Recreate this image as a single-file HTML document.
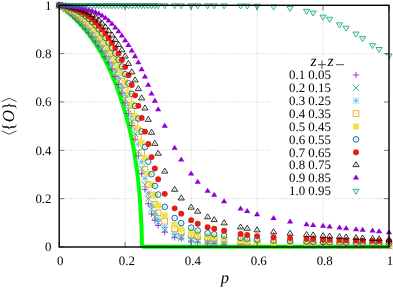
<!DOCTYPE html><html><head><meta charset="utf-8"><style>html,body{margin:0;padding:0;background:#fff}svg{display:block;will-change:transform}text{text-rendering:geometricPrecision;font-family:"Liberation Serif",serif;fill:#000}</style></head><body>
<svg width="393" height="288" viewBox="0 0 393 288">
<rect width="393" height="288" fill="#fff"/>
<path d="M125.16 5.3V247.0M59.2 198.66H389.0M191.12 5.3V247.0M59.2 150.32H389.0M257.08 5.3V247.0M59.2 101.98H389.0M323.04 5.3V247.0M59.2 53.64H389.0" stroke="#a8a8a8" stroke-width="0.55" stroke-dasharray="0.9 1.5" fill="none"/>
<polyline points="59.20,5.30 60.00,5.89 60.80,6.49 61.60,7.10 62.40,7.71 63.20,8.34 64.00,8.97 64.80,9.62 65.60,10.27 66.40,10.94 67.20,11.61 67.99,12.30 68.79,12.99 69.59,13.69 70.39,14.41 71.19,15.14 71.99,15.88 72.79,16.62 73.59,17.39 74.39,18.16 75.19,18.94 75.99,19.74 76.79,20.55 77.59,21.37 78.39,22.21 79.19,23.05 79.99,23.92 80.79,24.79 81.59,25.68 82.39,26.59 83.19,27.51 83.98,28.44 84.78,29.39 85.58,30.36 86.38,31.34 87.18,32.34 87.98,33.35 88.78,34.39 89.58,35.44 90.38,36.51 91.18,37.59 91.98,38.70 92.78,39.82 93.58,40.97 94.38,42.14 95.18,43.32 95.98,44.53 96.78,45.76 97.58,47.02 98.38,48.29 99.18,49.59 99.98,50.92 100.77,52.27 101.57,53.65 102.35,55.05 103.13,56.49 103.91,57.95 104.69,59.44 105.47,60.96 106.25,62.51 107.03,64.10 107.81,65.71 108.58,67.37 109.36,69.06 110.14,70.78 110.91,72.55 111.69,74.36 112.46,76.21 113.24,78.10 114.04,80.03 114.84,82.02 115.64,84.05 116.44,86.14 117.23,88.28 118.03,90.47 118.83,92.73 119.63,95.04 120.43,97.43 121.23,99.88 122.04,102.40 122.87,105.01 123.71,107.69 124.55,110.46 125.38,113.33 126.22,116.30 127.07,119.37 127.91,122.56 128.75,125.88 129.60,129.33 130.45,132.94 131.30,136.71 132.12,140.66 132.92,144.83 133.72,149.22 134.52,153.88 135.32,158.86 136.12,164.20 136.92,169.99 137.71,176.33 138.48,183.39 138.58,184.45 138.69,185.50 138.79,186.55 138.89,187.60 138.99,188.66 139.08,189.72 139.18,190.78 139.27,191.84 139.36,192.90 139.45,193.96 139.54,195.02 139.62,196.09 139.71,197.15 139.79,198.22 139.87,199.29 139.95,200.36 140.02,201.43 140.09,202.50 140.17,203.57 140.24,204.64 140.30,205.72 140.37,206.79 140.44,207.87 140.50,208.94 140.56,210.02 140.62,211.10 140.69,212.18 140.76,213.26 140.83,214.34 140.90,215.42 140.96,216.50 141.02,217.59 141.08,218.67 141.14,219.75 141.20,220.84 141.25,221.92 141.30,223.01 141.35,224.10 141.40,225.18 141.45,226.27 141.49,227.36 141.54,228.45 141.58,229.54 141.62,230.63 141.66,231.72 141.69,232.81 141.72,233.90 141.76,234.99 141.79,236.08 141.81,237.17 141.84,238.26 141.86,239.35 141.89,240.45 141.91,241.54 141.92,242.63 141.94,243.72 141.96,244.82 141.97,245.91 141.98,247.00 141.95,246.70 388.60,246.70" fill="none" stroke="#00FF00" stroke-width="4.0" stroke-linejoin="miter"/>
<g>
<path d="M56.10 5.30H62.30M59.20 2.20V8.40" stroke="#9400D3" stroke-width="0.8" fill="none"/>
<path d="M59.40 7.43H65.60M62.50 4.33V10.53" stroke="#9400D3" stroke-width="0.8" fill="none"/>
<path d="M62.70 9.80H68.90M65.80 6.70V12.90" stroke="#9400D3" stroke-width="0.8" fill="none"/>
<path d="M65.99 12.39H72.19M69.09 9.29V15.49" stroke="#9400D3" stroke-width="0.8" fill="none"/>
<path d="M69.29 15.20H75.49M72.39 12.10V18.30" stroke="#9400D3" stroke-width="0.8" fill="none"/>
<path d="M72.59 18.22H78.79M75.69 15.12V21.32" stroke="#9400D3" stroke-width="0.8" fill="none"/>
<path d="M75.89 21.44H82.09M78.99 18.34V24.54" stroke="#9400D3" stroke-width="0.8" fill="none"/>
<path d="M79.19 24.89H85.39M82.29 21.79V27.99" stroke="#9400D3" stroke-width="0.8" fill="none"/>
<path d="M82.48 28.56H88.68M85.58 25.46V31.66" stroke="#9400D3" stroke-width="0.8" fill="none"/>
<path d="M85.78 32.50H91.98M88.88 29.40V35.60" stroke="#9400D3" stroke-width="0.8" fill="none"/>
<path d="M89.08 36.69H95.28M92.18 33.59V39.79" stroke="#9400D3" stroke-width="0.8" fill="none"/>
<path d="M92.38 41.17H98.58M95.48 38.07V44.27" stroke="#9400D3" stroke-width="0.8" fill="none"/>
<path d="M95.68 45.98H101.88M98.78 42.88V49.08" stroke="#9400D3" stroke-width="0.8" fill="none"/>
<path d="M98.97 51.14H105.17M102.07 48.04V54.24" stroke="#9400D3" stroke-width="0.8" fill="none"/>
<path d="M102.27 56.71H108.47M105.37 53.61V59.81" stroke="#9400D3" stroke-width="0.8" fill="none"/>
<path d="M105.57 62.75H111.77M108.67 59.65V65.85" stroke="#9400D3" stroke-width="0.8" fill="none"/>
<path d="M108.87 69.27H115.07M111.97 66.17V72.37" stroke="#9400D3" stroke-width="0.8" fill="none"/>
<path d="M112.17 76.48H118.37M115.27 73.38V79.58" stroke="#9400D3" stroke-width="0.8" fill="none"/>
<path d="M115.46 84.50H121.66M118.56 81.40V87.60" stroke="#9400D3" stroke-width="0.8" fill="none"/>
<path d="M118.76 93.27H124.96M121.86 90.17V96.37" stroke="#9400D3" stroke-width="0.8" fill="none"/>
<path d="M122.06 102.81H128.26M125.16 99.71V105.91" stroke="#9400D3" stroke-width="0.8" fill="none"/>
<path d="M125.36 113.49H131.56M128.46 110.39V116.59" stroke="#9400D3" stroke-width="0.8" fill="none"/>
<path d="M128.66 125.47H134.86M131.76 122.37V128.57" stroke="#9400D3" stroke-width="0.8" fill="none"/>
<path d="M131.95 139.25H138.15M135.05 136.15V142.35" stroke="#9400D3" stroke-width="0.8" fill="none"/>
<path d="M135.25 155.88H141.45M138.35 152.78V158.98" stroke="#9400D3" stroke-width="0.8" fill="none"/>
<path d="M138.55 173.76H144.75M141.65 170.66V176.86" stroke="#9400D3" stroke-width="0.8" fill="none"/>
<path d="M141.85 189.35H148.05M144.95 186.25V192.45" stroke="#9400D3" stroke-width="0.8" fill="none"/>
<path d="M145.15 203.74H151.35M148.25 200.64V206.84" stroke="#9400D3" stroke-width="0.8" fill="none"/>
<path d="M148.44 213.89H154.64M151.54 210.79V216.99" stroke="#9400D3" stroke-width="0.8" fill="none"/>
<path d="M151.74 220.29H157.94M154.84 217.19V223.39" stroke="#9400D3" stroke-width="0.8" fill="none"/>
<path d="M155.04 225.49H161.24M158.14 222.39V228.59" stroke="#9400D3" stroke-width="0.8" fill="none"/>
<path d="M161.64 232.09H167.84M164.74 228.99V235.19" stroke="#9400D3" stroke-width="0.8" fill="none"/>
<path d="M171.53 237.33H177.73M174.63 234.23V240.43" stroke="#9400D3" stroke-width="0.8" fill="none"/>
<path d="M178.13 238.78H184.33M181.23 235.68V241.88" stroke="#9400D3" stroke-width="0.8" fill="none"/>
<path d="M188.02 241.20H194.22M191.12 238.10V244.30" stroke="#9400D3" stroke-width="0.8" fill="none"/>
<path d="M194.62 242.17H200.82M197.72 239.07V245.27" stroke="#9400D3" stroke-width="0.8" fill="none"/>
<path d="M204.51 243.13H210.71M207.61 240.03V246.23" stroke="#9400D3" stroke-width="0.8" fill="none"/>
<path d="M211.11 243.59H217.31M214.21 240.49V246.69" stroke="#9400D3" stroke-width="0.8" fill="none"/>
<path d="M221.00 244.10H227.20M224.10 241.00V247.20" stroke="#9400D3" stroke-width="0.8" fill="none"/>
<path d="M237.49 244.67H243.69M240.59 241.57V247.77" stroke="#9400D3" stroke-width="0.8" fill="none"/>
<path d="M244.09 244.85H250.29M247.19 241.75V247.95" stroke="#9400D3" stroke-width="0.8" fill="none"/>
<path d="M253.98 245.07H260.18M257.08 241.97V248.17" stroke="#9400D3" stroke-width="0.8" fill="none"/>
<path d="M270.47 245.37H276.67M273.57 242.27V248.47" stroke="#9400D3" stroke-width="0.8" fill="none"/>
<path d="M286.96 245.62H293.16M290.06 242.52V248.72" stroke="#9400D3" stroke-width="0.8" fill="none"/>
<path d="M303.45 245.79H309.65M306.55 242.69V248.89" stroke="#9400D3" stroke-width="0.8" fill="none"/>
<path d="M310.05 245.84H316.25M313.15 242.74V248.94" stroke="#9400D3" stroke-width="0.8" fill="none"/>
<path d="M319.94 245.89H326.14M323.04 242.79V248.99" stroke="#9400D3" stroke-width="0.8" fill="none"/>
<path d="M326.54 245.91H332.74M329.64 242.81V249.01" stroke="#9400D3" stroke-width="0.8" fill="none"/>
<path d="M336.43 245.95H342.63M339.53 242.85V249.05" stroke="#9400D3" stroke-width="0.8" fill="none"/>
<path d="M343.03 245.98H349.23M346.13 242.88V249.08" stroke="#9400D3" stroke-width="0.8" fill="none"/>
<path d="M352.92 246.03H359.12M356.02 242.93V249.13" stroke="#9400D3" stroke-width="0.8" fill="none"/>
<path d="M359.52 246.07H365.72M362.62 242.97V249.17" stroke="#9400D3" stroke-width="0.8" fill="none"/>
<path d="M369.41 246.14H375.61M372.51 243.04V249.24" stroke="#9400D3" stroke-width="0.8" fill="none"/>
<path d="M376.01 246.19H382.21M379.11 243.09V249.29" stroke="#9400D3" stroke-width="0.8" fill="none"/>
<path d="M385.90 246.27H392.10M389.00 243.17V249.37" stroke="#9400D3" stroke-width="0.8" fill="none"/>
</g>
<g>
<path d="M56.10 2.20L62.30 8.40M56.10 8.40L62.30 2.20" stroke="#009E73" stroke-width="0.8" fill="none"/>
<path d="M59.40 3.97L65.60 10.17M59.40 10.17L65.60 3.97" stroke="#009E73" stroke-width="0.8" fill="none"/>
<path d="M62.70 6.04L68.90 12.24M62.70 12.24L68.90 6.04" stroke="#009E73" stroke-width="0.8" fill="none"/>
<path d="M65.99 8.38L72.19 14.58M65.99 14.58L72.19 8.38" stroke="#009E73" stroke-width="0.8" fill="none"/>
<path d="M69.29 11.01L75.49 17.21M69.29 17.21L75.49 11.01" stroke="#009E73" stroke-width="0.8" fill="none"/>
<path d="M72.59 13.90L78.79 20.10M72.59 20.10L78.79 13.90" stroke="#009E73" stroke-width="0.8" fill="none"/>
<path d="M75.89 17.00L82.09 23.20M75.89 23.20L82.09 17.00" stroke="#009E73" stroke-width="0.8" fill="none"/>
<path d="M79.19 20.35L85.39 26.55M79.19 26.55L85.39 20.35" stroke="#009E73" stroke-width="0.8" fill="none"/>
<path d="M82.48 23.91L88.68 30.11M82.48 30.11L88.68 23.91" stroke="#009E73" stroke-width="0.8" fill="none"/>
<path d="M85.78 27.74L91.98 33.94M85.78 33.94L91.98 27.74" stroke="#009E73" stroke-width="0.8" fill="none"/>
<path d="M89.08 31.82L95.28 38.02M89.08 38.02L95.28 31.82" stroke="#009E73" stroke-width="0.8" fill="none"/>
<path d="M92.38 36.18L98.58 42.38M92.38 42.38L98.58 36.18" stroke="#009E73" stroke-width="0.8" fill="none"/>
<path d="M95.68 40.86L101.88 47.06M95.68 47.06L101.88 40.86" stroke="#009E73" stroke-width="0.8" fill="none"/>
<path d="M98.97 45.88L105.17 52.08M98.97 52.08L105.17 45.88" stroke="#009E73" stroke-width="0.8" fill="none"/>
<path d="M102.27 51.28L108.47 57.48M102.27 57.48L108.47 51.28" stroke="#009E73" stroke-width="0.8" fill="none"/>
<path d="M105.57 57.16L111.77 63.36M105.57 63.36L111.77 57.16" stroke="#009E73" stroke-width="0.8" fill="none"/>
<path d="M108.87 63.51L115.07 69.71M108.87 69.71L115.07 63.51" stroke="#009E73" stroke-width="0.8" fill="none"/>
<path d="M112.17 70.45L118.37 76.65M112.17 76.65L118.37 70.45" stroke="#009E73" stroke-width="0.8" fill="none"/>
<path d="M115.46 78.27L121.66 84.47M115.46 84.47L121.66 78.27" stroke="#009E73" stroke-width="0.8" fill="none"/>
<path d="M118.76 86.85L124.96 93.05M118.76 93.05L124.96 86.85" stroke="#009E73" stroke-width="0.8" fill="none"/>
<path d="M122.06 96.14L128.26 102.34M122.06 102.34L128.26 96.14" stroke="#009E73" stroke-width="0.8" fill="none"/>
<path d="M125.36 106.47L131.56 112.67M125.36 112.67L131.56 106.47" stroke="#009E73" stroke-width="0.8" fill="none"/>
<path d="M128.66 117.98L134.86 124.18M128.66 124.18L134.86 117.98" stroke="#009E73" stroke-width="0.8" fill="none"/>
<path d="M131.95 130.98L138.15 137.18M131.95 137.18L138.15 130.98" stroke="#009E73" stroke-width="0.8" fill="none"/>
<path d="M135.25 148.67L141.45 154.87M135.25 154.87L141.45 148.67" stroke="#009E73" stroke-width="0.8" fill="none"/>
<path d="M138.55 165.59L144.75 171.79M138.55 171.79L144.75 165.59" stroke="#009E73" stroke-width="0.8" fill="none"/>
<path d="M141.85 181.54L148.05 187.74M141.85 187.74L148.05 181.54" stroke="#009E73" stroke-width="0.8" fill="none"/>
<path d="M145.15 195.56L151.35 201.76M145.15 201.76L151.35 195.56" stroke="#009E73" stroke-width="0.8" fill="none"/>
<path d="M148.44 205.95L154.64 212.15M148.44 212.15L154.64 205.95" stroke="#009E73" stroke-width="0.8" fill="none"/>
<path d="M151.74 213.69L157.94 219.89M151.74 219.89L157.94 213.69" stroke="#009E73" stroke-width="0.8" fill="none"/>
<path d="M155.04 219.25L161.24 225.45M155.04 225.45L161.24 219.25" stroke="#009E73" stroke-width="0.8" fill="none"/>
<path d="M161.64 226.74L167.84 232.94M161.64 232.94L167.84 226.74" stroke="#009E73" stroke-width="0.8" fill="none"/>
<path d="M171.53 233.02L177.73 239.22M171.53 239.22L177.73 233.02" stroke="#009E73" stroke-width="0.8" fill="none"/>
<path d="M178.13 234.72L184.33 240.92M178.13 240.92L184.33 234.72" stroke="#009E73" stroke-width="0.8" fill="none"/>
<path d="M188.02 236.89L194.22 243.09M188.02 243.09L194.22 236.89" stroke="#009E73" stroke-width="0.8" fill="none"/>
<path d="M194.62 237.86L200.82 244.06M194.62 244.06L200.82 237.86" stroke="#009E73" stroke-width="0.8" fill="none"/>
<path d="M204.51 239.07L210.71 245.27M204.51 245.27L210.71 239.07" stroke="#009E73" stroke-width="0.8" fill="none"/>
<path d="M211.11 239.63L217.31 245.83M211.11 245.83L217.31 239.63" stroke="#009E73" stroke-width="0.8" fill="none"/>
<path d="M221.00 240.27L227.20 246.47M221.00 246.47L227.20 240.27" stroke="#009E73" stroke-width="0.8" fill="none"/>
<path d="M237.49 241.00L243.69 247.20M237.49 247.20L243.69 241.00" stroke="#009E73" stroke-width="0.8" fill="none"/>
<path d="M244.09 241.22L250.29 247.42M244.09 247.42L250.29 241.22" stroke="#009E73" stroke-width="0.8" fill="none"/>
<path d="M253.98 241.48L260.18 247.68M253.98 247.68L260.18 241.48" stroke="#009E73" stroke-width="0.8" fill="none"/>
<path d="M270.47 241.79L276.67 247.99M270.47 247.99L276.67 241.79" stroke="#009E73" stroke-width="0.8" fill="none"/>
<path d="M286.96 242.01L293.16 248.21M286.96 248.21L293.16 242.01" stroke="#009E73" stroke-width="0.8" fill="none"/>
<path d="M303.45 242.21L309.65 248.41M303.45 248.41L309.65 242.21" stroke="#009E73" stroke-width="0.8" fill="none"/>
<path d="M310.05 242.28L316.25 248.48M310.05 248.48L316.25 242.28" stroke="#009E73" stroke-width="0.8" fill="none"/>
<path d="M319.94 242.39L326.14 248.59M319.94 248.59L326.14 242.39" stroke="#009E73" stroke-width="0.8" fill="none"/>
<path d="M326.54 242.45L332.74 248.65M326.54 248.65L332.74 242.45" stroke="#009E73" stroke-width="0.8" fill="none"/>
<path d="M336.43 242.55L342.63 248.75M336.43 248.75L342.63 242.55" stroke="#009E73" stroke-width="0.8" fill="none"/>
<path d="M343.03 242.61L349.23 248.81M343.03 248.81L349.23 242.61" stroke="#009E73" stroke-width="0.8" fill="none"/>
<path d="M352.92 242.69L359.12 248.89M352.92 248.89L359.12 242.69" stroke="#009E73" stroke-width="0.8" fill="none"/>
<path d="M359.52 242.74L365.72 248.94M359.52 248.94L365.72 242.74" stroke="#009E73" stroke-width="0.8" fill="none"/>
<path d="M369.41 242.82L375.61 249.02M369.41 249.02L375.61 242.82" stroke="#009E73" stroke-width="0.8" fill="none"/>
<path d="M376.01 242.87L382.21 249.07M376.01 249.07L382.21 242.87" stroke="#009E73" stroke-width="0.8" fill="none"/>
<path d="M385.90 242.93L392.10 249.13M385.90 249.13L392.10 242.93" stroke="#009E73" stroke-width="0.8" fill="none"/>
</g>
<g>
<path d="M56.10 5.30H62.30M59.20 2.20V8.40M56.10 2.20L62.30 8.40M56.10 8.40L62.30 2.20" stroke="#56B4E9" stroke-width="0.8" fill="none"/>
<path d="M59.40 6.72H65.60M62.50 3.62V9.82M59.40 3.62L65.60 9.82M59.40 9.82L65.60 3.62" stroke="#56B4E9" stroke-width="0.8" fill="none"/>
<path d="M62.70 8.43H68.90M65.80 5.33V11.53M62.70 5.33L68.90 11.53M62.70 11.53L68.90 5.33" stroke="#56B4E9" stroke-width="0.8" fill="none"/>
<path d="M65.99 10.44H72.19M69.09 7.34V13.54M65.99 7.34L72.19 13.54M65.99 13.54L72.19 7.34" stroke="#56B4E9" stroke-width="0.8" fill="none"/>
<path d="M69.29 12.79H75.49M72.39 9.69V15.89M69.29 9.69L75.49 15.89M69.29 15.89L75.49 9.69" stroke="#56B4E9" stroke-width="0.8" fill="none"/>
<path d="M72.59 15.45H78.79M75.69 12.35V18.55M72.59 12.35L78.79 18.55M72.59 18.55L78.79 12.35" stroke="#56B4E9" stroke-width="0.8" fill="none"/>
<path d="M75.89 18.39H82.09M78.99 15.29V21.49M75.89 15.29L82.09 21.49M75.89 21.49L82.09 15.29" stroke="#56B4E9" stroke-width="0.8" fill="none"/>
<path d="M79.19 21.58H85.39M82.29 18.48V24.68M79.19 18.48L85.39 24.68M79.19 24.68L85.39 18.48" stroke="#56B4E9" stroke-width="0.8" fill="none"/>
<path d="M82.48 25.03H88.68M85.58 21.93V28.13M82.48 21.93L88.68 28.13M82.48 28.13L88.68 21.93" stroke="#56B4E9" stroke-width="0.8" fill="none"/>
<path d="M85.78 28.72H91.98M88.88 25.62V31.82M85.78 25.62L91.98 31.82M85.78 31.82L91.98 25.62" stroke="#56B4E9" stroke-width="0.8" fill="none"/>
<path d="M89.08 32.68H95.28M92.18 29.58V35.78M89.08 29.58L95.28 35.78M89.08 35.78L95.28 29.58" stroke="#56B4E9" stroke-width="0.8" fill="none"/>
<path d="M92.38 36.92H98.58M95.48 33.82V40.02M92.38 33.82L98.58 40.02M92.38 40.02L98.58 33.82" stroke="#56B4E9" stroke-width="0.8" fill="none"/>
<path d="M95.68 41.45H101.88M98.78 38.35V44.55M95.68 38.35L101.88 44.55M95.68 44.55L101.88 38.35" stroke="#56B4E9" stroke-width="0.8" fill="none"/>
<path d="M98.97 46.33H105.17M102.07 43.23V49.43M98.97 43.23L105.17 49.43M98.97 49.43L105.17 43.23" stroke="#56B4E9" stroke-width="0.8" fill="none"/>
<path d="M102.27 51.55H108.47M105.37 48.45V54.65M102.27 48.45L108.47 54.65M102.27 54.65L108.47 48.45" stroke="#56B4E9" stroke-width="0.8" fill="none"/>
<path d="M105.57 57.24H111.77M108.67 54.14V60.34M105.57 54.14L111.77 60.34M105.57 60.34L111.77 54.14" stroke="#56B4E9" stroke-width="0.8" fill="none"/>
<path d="M108.87 63.45H115.07M111.97 60.35V66.55M108.87 60.35L115.07 66.55M108.87 66.55L115.07 60.35" stroke="#56B4E9" stroke-width="0.8" fill="none"/>
<path d="M112.17 70.17H118.37M115.27 67.07V73.27M112.17 67.07L118.37 73.27M112.17 73.27L118.37 67.07" stroke="#56B4E9" stroke-width="0.8" fill="none"/>
<path d="M115.46 77.70H121.66M118.56 74.60V80.80M115.46 74.60L121.66 80.80M115.46 80.80L121.66 74.60" stroke="#56B4E9" stroke-width="0.8" fill="none"/>
<path d="M118.76 86.11H124.96M121.86 83.01V89.21M118.76 83.01L124.96 89.21M118.76 89.21L124.96 83.01" stroke="#56B4E9" stroke-width="0.8" fill="none"/>
<path d="M122.06 95.29H128.26M125.16 92.19V98.39M122.06 92.19L128.26 98.39M122.06 98.39L128.26 92.19" stroke="#56B4E9" stroke-width="0.8" fill="none"/>
<path d="M125.36 105.32H131.56M128.46 102.22V108.42M125.36 102.22L131.56 108.42M125.36 108.42L131.56 102.22" stroke="#56B4E9" stroke-width="0.8" fill="none"/>
<path d="M128.66 116.58H134.86M131.76 113.48V119.68M128.66 113.48L134.86 119.68M128.66 119.68L134.86 113.48" stroke="#56B4E9" stroke-width="0.8" fill="none"/>
<path d="M131.95 129.22H138.15M135.05 126.12V132.32M131.95 126.12L138.15 132.32M131.95 132.32L138.15 126.12" stroke="#56B4E9" stroke-width="0.8" fill="none"/>
<path d="M135.25 144.27H141.45M138.35 141.17V147.37M135.25 141.17L141.45 147.37M135.25 147.37L141.45 141.17" stroke="#56B4E9" stroke-width="0.8" fill="none"/>
<path d="M138.55 161.92H144.75M141.65 158.82V165.02M138.55 158.82L144.75 165.02M138.55 165.02L144.75 158.82" stroke="#56B4E9" stroke-width="0.8" fill="none"/>
<path d="M141.85 178.36H148.05M144.95 175.26V181.46M141.85 175.26L148.05 181.46M141.85 181.46L148.05 175.26" stroke="#56B4E9" stroke-width="0.8" fill="none"/>
<path d="M145.15 193.34H151.35M148.25 190.24V196.44M145.15 190.24L151.35 196.44M145.15 196.44L151.35 190.24" stroke="#56B4E9" stroke-width="0.8" fill="none"/>
<path d="M148.44 205.43H154.64M151.54 202.33V208.53M148.44 202.33L154.64 208.53M148.44 208.53L154.64 202.33" stroke="#56B4E9" stroke-width="0.8" fill="none"/>
<path d="M151.74 213.40H157.94M154.84 210.30V216.50M151.74 210.30L157.94 216.50M151.74 216.50L157.94 210.30" stroke="#56B4E9" stroke-width="0.8" fill="none"/>
<path d="M155.04 219.45H161.24M158.14 216.35V222.55M155.04 216.35L161.24 222.55M155.04 222.55L161.24 216.35" stroke="#56B4E9" stroke-width="0.8" fill="none"/>
<path d="M161.64 227.18H167.84M164.74 224.08V230.28M161.64 224.08L167.84 230.28M161.64 230.28L167.84 224.08" stroke="#56B4E9" stroke-width="0.8" fill="none"/>
<path d="M171.53 234.19H177.73M174.63 231.09V237.29M171.53 231.09L177.73 237.29M171.53 237.29L177.73 231.09" stroke="#56B4E9" stroke-width="0.8" fill="none"/>
<path d="M178.13 236.12H184.33M181.23 233.02V239.22M178.13 233.02L184.33 239.22M178.13 239.22L184.33 233.02" stroke="#56B4E9" stroke-width="0.8" fill="none"/>
<path d="M188.02 238.54H194.22M191.12 235.44V241.64M188.02 235.44L194.22 241.64M188.02 241.64L194.22 235.44" stroke="#56B4E9" stroke-width="0.8" fill="none"/>
<path d="M194.62 239.75H200.82M197.72 236.65V242.85M194.62 236.65L200.82 242.85M194.62 242.85L200.82 236.65" stroke="#56B4E9" stroke-width="0.8" fill="none"/>
<path d="M204.51 240.96H210.71M207.61 237.86V244.06M204.51 237.86L210.71 244.06M204.51 244.06L210.71 237.86" stroke="#56B4E9" stroke-width="0.8" fill="none"/>
<path d="M211.11 241.49H217.31M214.21 238.39V244.59M211.11 238.39L217.31 244.59M211.11 244.59L217.31 238.39" stroke="#56B4E9" stroke-width="0.8" fill="none"/>
<path d="M221.00 242.17H227.20M224.10 239.07V245.27M221.00 239.07L227.20 245.27M221.00 245.27L227.20 239.07" stroke="#56B4E9" stroke-width="0.8" fill="none"/>
<path d="M237.49 243.41H243.69M240.59 240.31V246.51M237.49 240.31L243.69 246.51M237.49 246.51L243.69 240.31" stroke="#56B4E9" stroke-width="0.8" fill="none"/>
<path d="M244.09 243.86H250.29M247.19 240.76V246.96M244.09 240.76L250.29 246.96M244.09 246.96L250.29 240.76" stroke="#56B4E9" stroke-width="0.8" fill="none"/>
<path d="M253.98 244.34H260.18M257.08 241.24V247.44M253.98 241.24L260.18 247.44M253.98 247.44L260.18 241.24" stroke="#56B4E9" stroke-width="0.8" fill="none"/>
<path d="M270.47 244.77H276.67M273.57 241.67V247.87M270.47 241.67L276.67 247.87M270.47 247.87L276.67 241.67" stroke="#56B4E9" stroke-width="0.8" fill="none"/>
<path d="M286.96 245.08H293.16M290.06 241.98V248.18M286.96 241.98L293.16 248.18M286.96 248.18L293.16 241.98" stroke="#56B4E9" stroke-width="0.8" fill="none"/>
<path d="M303.45 245.31H309.65M306.55 242.21V248.41M303.45 242.21L309.65 248.41M303.45 248.41L309.65 242.21" stroke="#56B4E9" stroke-width="0.8" fill="none"/>
<path d="M310.05 245.39H316.25M313.15 242.29V248.49M310.05 242.29L316.25 248.49M310.05 248.49L316.25 242.29" stroke="#56B4E9" stroke-width="0.8" fill="none"/>
<path d="M319.94 245.50H326.14M323.04 242.40V248.60M319.94 242.40L326.14 248.60M319.94 248.60L326.14 242.40" stroke="#56B4E9" stroke-width="0.8" fill="none"/>
<path d="M326.54 245.56H332.74M329.64 242.46V248.66M326.54 242.46L332.74 248.66M326.54 248.66L332.74 242.46" stroke="#56B4E9" stroke-width="0.8" fill="none"/>
<path d="M336.43 245.65H342.63M339.53 242.55V248.75M336.43 242.55L342.63 248.75M336.43 248.75L342.63 242.55" stroke="#56B4E9" stroke-width="0.8" fill="none"/>
<path d="M343.03 245.71H349.23M346.13 242.61V248.81M343.03 242.61L349.23 248.81M343.03 248.81L349.23 242.61" stroke="#56B4E9" stroke-width="0.8" fill="none"/>
<path d="M352.92 245.79H359.12M356.02 242.69V248.89M352.92 242.69L359.12 248.89M352.92 248.89L359.12 242.69" stroke="#56B4E9" stroke-width="0.8" fill="none"/>
<path d="M359.52 245.84H365.72M362.62 242.74V248.94M359.52 242.74L365.72 248.94M359.52 248.94L365.72 242.74" stroke="#56B4E9" stroke-width="0.8" fill="none"/>
<path d="M369.41 245.92H375.61M372.51 242.82V249.02M369.41 242.82L375.61 249.02M369.41 249.02L375.61 242.82" stroke="#56B4E9" stroke-width="0.8" fill="none"/>
<path d="M376.01 245.97H382.21M379.11 242.87V249.07M376.01 242.87L382.21 249.07M376.01 249.07L382.21 242.87" stroke="#56B4E9" stroke-width="0.8" fill="none"/>
<path d="M385.90 246.03H392.10M389.00 242.93V249.13M385.90 242.93L392.10 249.13M385.90 249.13L392.10 242.93" stroke="#56B4E9" stroke-width="0.8" fill="none"/>
</g>
<g>
<rect x="56.35" y="2.45" width="5.70" height="5.70" stroke="#E69F00" stroke-width="0.8" fill="none"/><circle cx="59.20" cy="5.30" r="0.5" fill="#E69F00" fill-opacity="0.8"/>
<rect x="59.65" y="3.55" width="5.70" height="5.70" stroke="#E69F00" stroke-width="0.8" fill="none"/><circle cx="62.50" cy="6.40" r="0.5" fill="#E69F00" fill-opacity="0.8"/>
<rect x="62.95" y="4.87" width="5.70" height="5.70" stroke="#E69F00" stroke-width="0.8" fill="none"/><circle cx="65.80" cy="7.72" r="0.5" fill="#E69F00" fill-opacity="0.8"/>
<rect x="66.24" y="6.48" width="5.70" height="5.70" stroke="#E69F00" stroke-width="0.8" fill="none"/><circle cx="69.09" cy="9.33" r="0.5" fill="#E69F00" fill-opacity="0.8"/>
<rect x="69.54" y="8.40" width="5.70" height="5.70" stroke="#E69F00" stroke-width="0.8" fill="none"/><circle cx="72.39" cy="11.25" r="0.5" fill="#E69F00" fill-opacity="0.8"/>
<rect x="72.84" y="10.68" width="5.70" height="5.70" stroke="#E69F00" stroke-width="0.8" fill="none"/><circle cx="75.69" cy="13.53" r="0.5" fill="#E69F00" fill-opacity="0.8"/>
<rect x="76.14" y="13.32" width="5.70" height="5.70" stroke="#E69F00" stroke-width="0.8" fill="none"/><circle cx="78.99" cy="16.17" r="0.5" fill="#E69F00" fill-opacity="0.8"/>
<rect x="79.44" y="16.28" width="5.70" height="5.70" stroke="#E69F00" stroke-width="0.8" fill="none"/><circle cx="82.29" cy="19.13" r="0.5" fill="#E69F00" fill-opacity="0.8"/>
<rect x="82.73" y="19.52" width="5.70" height="5.70" stroke="#E69F00" stroke-width="0.8" fill="none"/><circle cx="85.58" cy="22.37" r="0.5" fill="#E69F00" fill-opacity="0.8"/>
<rect x="86.03" y="23.03" width="5.70" height="5.70" stroke="#E69F00" stroke-width="0.8" fill="none"/><circle cx="88.88" cy="25.88" r="0.5" fill="#E69F00" fill-opacity="0.8"/>
<rect x="89.33" y="26.81" width="5.70" height="5.70" stroke="#E69F00" stroke-width="0.8" fill="none"/><circle cx="92.18" cy="29.66" r="0.5" fill="#E69F00" fill-opacity="0.8"/>
<rect x="92.63" y="30.88" width="5.70" height="5.70" stroke="#E69F00" stroke-width="0.8" fill="none"/><circle cx="95.48" cy="33.73" r="0.5" fill="#E69F00" fill-opacity="0.8"/>
<rect x="95.93" y="35.23" width="5.70" height="5.70" stroke="#E69F00" stroke-width="0.8" fill="none"/><circle cx="98.78" cy="38.08" r="0.5" fill="#E69F00" fill-opacity="0.8"/>
<rect x="99.22" y="39.92" width="5.70" height="5.70" stroke="#E69F00" stroke-width="0.8" fill="none"/><circle cx="102.07" cy="42.77" r="0.5" fill="#E69F00" fill-opacity="0.8"/>
<rect x="102.52" y="44.95" width="5.70" height="5.70" stroke="#E69F00" stroke-width="0.8" fill="none"/><circle cx="105.37" cy="47.80" r="0.5" fill="#E69F00" fill-opacity="0.8"/>
<rect x="105.82" y="50.38" width="5.70" height="5.70" stroke="#E69F00" stroke-width="0.8" fill="none"/><circle cx="108.67" cy="53.23" r="0.5" fill="#E69F00" fill-opacity="0.8"/>
<rect x="109.12" y="56.36" width="5.70" height="5.70" stroke="#E69F00" stroke-width="0.8" fill="none"/><circle cx="111.97" cy="59.21" r="0.5" fill="#E69F00" fill-opacity="0.8"/>
<rect x="112.42" y="62.88" width="5.70" height="5.70" stroke="#E69F00" stroke-width="0.8" fill="none"/><circle cx="115.27" cy="65.73" r="0.5" fill="#E69F00" fill-opacity="0.8"/>
<rect x="115.71" y="70.02" width="5.70" height="5.70" stroke="#E69F00" stroke-width="0.8" fill="none"/><circle cx="118.56" cy="72.87" r="0.5" fill="#E69F00" fill-opacity="0.8"/>
<rect x="119.01" y="78.17" width="5.70" height="5.70" stroke="#E69F00" stroke-width="0.8" fill="none"/><circle cx="121.86" cy="81.02" r="0.5" fill="#E69F00" fill-opacity="0.8"/>
<rect x="122.31" y="87.20" width="5.70" height="5.70" stroke="#E69F00" stroke-width="0.8" fill="none"/><circle cx="125.16" cy="90.05" r="0.5" fill="#E69F00" fill-opacity="0.8"/>
<rect x="125.61" y="96.99" width="5.70" height="5.70" stroke="#E69F00" stroke-width="0.8" fill="none"/><circle cx="128.46" cy="99.84" r="0.5" fill="#E69F00" fill-opacity="0.8"/>
<rect x="128.91" y="108.02" width="5.70" height="5.70" stroke="#E69F00" stroke-width="0.8" fill="none"/><circle cx="131.76" cy="110.87" r="0.5" fill="#E69F00" fill-opacity="0.8"/>
<rect x="132.20" y="120.28" width="5.70" height="5.70" stroke="#E69F00" stroke-width="0.8" fill="none"/><circle cx="135.05" cy="123.13" r="0.5" fill="#E69F00" fill-opacity="0.8"/>
<rect x="135.50" y="134.43" width="5.70" height="5.70" stroke="#E69F00" stroke-width="0.8" fill="none"/><circle cx="138.35" cy="137.28" r="0.5" fill="#E69F00" fill-opacity="0.8"/>
<rect x="138.80" y="149.89" width="5.70" height="5.70" stroke="#E69F00" stroke-width="0.8" fill="none"/><circle cx="141.65" cy="152.74" r="0.5" fill="#E69F00" fill-opacity="0.8"/>
<rect x="142.10" y="166.32" width="5.70" height="5.70" stroke="#E69F00" stroke-width="0.8" fill="none"/><circle cx="144.95" cy="169.17" r="0.5" fill="#E69F00" fill-opacity="0.8"/>
<rect x="145.40" y="181.79" width="5.70" height="5.70" stroke="#E69F00" stroke-width="0.8" fill="none"/><circle cx="148.25" cy="184.64" r="0.5" fill="#E69F00" fill-opacity="0.8"/>
<rect x="148.69" y="192.18" width="5.70" height="5.70" stroke="#E69F00" stroke-width="0.8" fill="none"/><circle cx="151.54" cy="195.03" r="0.5" fill="#E69F00" fill-opacity="0.8"/>
<rect x="151.99" y="201.37" width="5.70" height="5.70" stroke="#E69F00" stroke-width="0.8" fill="none"/><circle cx="154.84" cy="204.22" r="0.5" fill="#E69F00" fill-opacity="0.8"/>
<rect x="155.29" y="209.93" width="5.70" height="5.70" stroke="#E69F00" stroke-width="0.8" fill="none"/><circle cx="158.14" cy="212.78" r="0.5" fill="#E69F00" fill-opacity="0.8"/>
<rect x="161.89" y="218.29" width="5.70" height="5.70" stroke="#E69F00" stroke-width="0.8" fill="none"/><circle cx="164.74" cy="221.14" r="0.5" fill="#E69F00" fill-opacity="0.8"/>
<rect x="171.78" y="226.02" width="5.70" height="5.70" stroke="#E69F00" stroke-width="0.8" fill="none"/><circle cx="174.63" cy="228.87" r="0.5" fill="#E69F00" fill-opacity="0.8"/>
<rect x="178.38" y="229.16" width="5.70" height="5.70" stroke="#E69F00" stroke-width="0.8" fill="none"/><circle cx="181.23" cy="232.01" r="0.5" fill="#E69F00" fill-opacity="0.8"/>
<rect x="188.27" y="232.31" width="5.70" height="5.70" stroke="#E69F00" stroke-width="0.8" fill="none"/><circle cx="191.12" cy="235.16" r="0.5" fill="#E69F00" fill-opacity="0.8"/>
<rect x="194.87" y="234.00" width="5.70" height="5.70" stroke="#E69F00" stroke-width="0.8" fill="none"/><circle cx="197.72" cy="236.85" r="0.5" fill="#E69F00" fill-opacity="0.8"/>
<rect x="204.76" y="235.93" width="5.70" height="5.70" stroke="#E69F00" stroke-width="0.8" fill="none"/><circle cx="207.61" cy="238.78" r="0.5" fill="#E69F00" fill-opacity="0.8"/>
<rect x="211.36" y="236.75" width="5.70" height="5.70" stroke="#E69F00" stroke-width="0.8" fill="none"/><circle cx="214.21" cy="239.60" r="0.5" fill="#E69F00" fill-opacity="0.8"/>
<rect x="221.25" y="237.74" width="5.70" height="5.70" stroke="#E69F00" stroke-width="0.8" fill="none"/><circle cx="224.10" cy="240.59" r="0.5" fill="#E69F00" fill-opacity="0.8"/>
<rect x="237.74" y="239.51" width="5.70" height="5.70" stroke="#E69F00" stroke-width="0.8" fill="none"/><circle cx="240.59" cy="242.36" r="0.5" fill="#E69F00" fill-opacity="0.8"/>
<rect x="244.34" y="240.13" width="5.70" height="5.70" stroke="#E69F00" stroke-width="0.8" fill="none"/><circle cx="247.19" cy="242.98" r="0.5" fill="#E69F00" fill-opacity="0.8"/>
<rect x="254.23" y="240.77" width="5.70" height="5.70" stroke="#E69F00" stroke-width="0.8" fill="none"/><circle cx="257.08" cy="243.62" r="0.5" fill="#E69F00" fill-opacity="0.8"/>
<rect x="270.72" y="241.32" width="5.70" height="5.70" stroke="#E69F00" stroke-width="0.8" fill="none"/><circle cx="273.57" cy="244.17" r="0.5" fill="#E69F00" fill-opacity="0.8"/>
<rect x="287.21" y="241.71" width="5.70" height="5.70" stroke="#E69F00" stroke-width="0.8" fill="none"/><circle cx="290.06" cy="244.56" r="0.5" fill="#E69F00" fill-opacity="0.8"/>
<rect x="303.70" y="241.97" width="5.70" height="5.70" stroke="#E69F00" stroke-width="0.8" fill="none"/><circle cx="306.55" cy="244.82" r="0.5" fill="#E69F00" fill-opacity="0.8"/>
<rect x="310.30" y="242.06" width="5.70" height="5.70" stroke="#E69F00" stroke-width="0.8" fill="none"/><circle cx="313.15" cy="244.91" r="0.5" fill="#E69F00" fill-opacity="0.8"/>
<rect x="320.19" y="242.17" width="5.70" height="5.70" stroke="#E69F00" stroke-width="0.8" fill="none"/><circle cx="323.04" cy="245.02" r="0.5" fill="#E69F00" fill-opacity="0.8"/>
<rect x="326.79" y="242.24" width="5.70" height="5.70" stroke="#E69F00" stroke-width="0.8" fill="none"/><circle cx="329.64" cy="245.09" r="0.5" fill="#E69F00" fill-opacity="0.8"/>
<rect x="336.68" y="242.32" width="5.70" height="5.70" stroke="#E69F00" stroke-width="0.8" fill="none"/><circle cx="339.53" cy="245.17" r="0.5" fill="#E69F00" fill-opacity="0.8"/>
<rect x="343.28" y="242.38" width="5.70" height="5.70" stroke="#E69F00" stroke-width="0.8" fill="none"/><circle cx="346.13" cy="245.23" r="0.5" fill="#E69F00" fill-opacity="0.8"/>
<rect x="353.17" y="242.46" width="5.70" height="5.70" stroke="#E69F00" stroke-width="0.8" fill="none"/><circle cx="356.02" cy="245.31" r="0.5" fill="#E69F00" fill-opacity="0.8"/>
<rect x="359.77" y="242.51" width="5.70" height="5.70" stroke="#E69F00" stroke-width="0.8" fill="none"/><circle cx="362.62" cy="245.36" r="0.5" fill="#E69F00" fill-opacity="0.8"/>
<rect x="369.66" y="242.59" width="5.70" height="5.70" stroke="#E69F00" stroke-width="0.8" fill="none"/><circle cx="372.51" cy="245.44" r="0.5" fill="#E69F00" fill-opacity="0.8"/>
<rect x="376.26" y="242.63" width="5.70" height="5.70" stroke="#E69F00" stroke-width="0.8" fill="none"/><circle cx="379.11" cy="245.48" r="0.5" fill="#E69F00" fill-opacity="0.8"/>
<rect x="386.15" y="242.70" width="5.70" height="5.70" stroke="#E69F00" stroke-width="0.8" fill="none"/><circle cx="389.00" cy="245.55" r="0.5" fill="#E69F00" fill-opacity="0.8"/>
</g>
<g>
<rect x="56.30" y="2.40" width="5.80" height="5.80" fill="#F0E442"/>
<rect x="59.60" y="3.21" width="5.80" height="5.80" fill="#F0E442"/>
<rect x="62.90" y="4.16" width="5.80" height="5.80" fill="#F0E442"/>
<rect x="66.19" y="5.31" width="5.80" height="5.80" fill="#F0E442"/>
<rect x="69.49" y="6.69" width="5.80" height="5.80" fill="#F0E442"/>
<rect x="72.79" y="8.37" width="5.80" height="5.80" fill="#F0E442"/>
<rect x="76.09" y="10.42" width="5.80" height="5.80" fill="#F0E442"/>
<rect x="79.39" y="12.88" width="5.80" height="5.80" fill="#F0E442"/>
<rect x="82.68" y="15.72" width="5.80" height="5.80" fill="#F0E442"/>
<rect x="85.98" y="18.87" width="5.80" height="5.80" fill="#F0E442"/>
<rect x="89.28" y="22.35" width="5.80" height="5.80" fill="#F0E442"/>
<rect x="92.58" y="26.12" width="5.80" height="5.80" fill="#F0E442"/>
<rect x="95.88" y="30.21" width="5.80" height="5.80" fill="#F0E442"/>
<rect x="99.17" y="34.61" width="5.80" height="5.80" fill="#F0E442"/>
<rect x="102.47" y="39.34" width="5.80" height="5.80" fill="#F0E442"/>
<rect x="105.77" y="44.45" width="5.80" height="5.80" fill="#F0E442"/>
<rect x="109.07" y="49.97" width="5.80" height="5.80" fill="#F0E442"/>
<rect x="112.37" y="56.12" width="5.80" height="5.80" fill="#F0E442"/>
<rect x="115.66" y="62.88" width="5.80" height="5.80" fill="#F0E442"/>
<rect x="118.96" y="70.36" width="5.80" height="5.80" fill="#F0E442"/>
<rect x="122.26" y="79.25" width="5.80" height="5.80" fill="#F0E442"/>
<rect x="125.56" y="89.33" width="5.80" height="5.80" fill="#F0E442"/>
<rect x="128.86" y="100.87" width="5.80" height="5.80" fill="#F0E442"/>
<rect x="132.15" y="113.59" width="5.80" height="5.80" fill="#F0E442"/>
<rect x="135.45" y="125.91" width="5.80" height="5.80" fill="#F0E442"/>
<rect x="138.75" y="139.88" width="5.80" height="5.80" fill="#F0E442"/>
<rect x="142.05" y="155.15" width="5.80" height="5.80" fill="#F0E442"/>
<rect x="145.35" y="170.86" width="5.80" height="5.80" fill="#F0E442"/>
<rect x="148.64" y="181.74" width="5.80" height="5.80" fill="#F0E442"/>
<rect x="151.94" y="192.13" width="5.80" height="5.80" fill="#F0E442"/>
<rect x="155.24" y="202.53" width="5.80" height="5.80" fill="#F0E442"/>
<rect x="161.84" y="212.44" width="5.80" height="5.80" fill="#F0E442"/>
<rect x="171.73" y="221.86" width="5.80" height="5.80" fill="#F0E442"/>
<rect x="178.33" y="225.97" width="5.80" height="5.80" fill="#F0E442"/>
<rect x="188.22" y="229.11" width="5.80" height="5.80" fill="#F0E442"/>
<rect x="194.82" y="231.29" width="5.80" height="5.80" fill="#F0E442"/>
<rect x="204.71" y="233.47" width="5.80" height="5.80" fill="#F0E442"/>
<rect x="211.31" y="234.33" width="5.80" height="5.80" fill="#F0E442"/>
<rect x="221.20" y="235.40" width="5.80" height="5.80" fill="#F0E442"/>
<rect x="237.69" y="237.75" width="5.80" height="5.80" fill="#F0E442"/>
<rect x="244.29" y="238.63" width="5.80" height="5.80" fill="#F0E442"/>
<rect x="254.18" y="239.51" width="5.80" height="5.80" fill="#F0E442"/>
<rect x="270.67" y="240.17" width="5.80" height="5.80" fill="#F0E442"/>
<rect x="287.16" y="240.62" width="5.80" height="5.80" fill="#F0E442"/>
<rect x="303.65" y="240.96" width="5.80" height="5.80" fill="#F0E442"/>
<rect x="310.25" y="241.08" width="5.80" height="5.80" fill="#F0E442"/>
<rect x="320.14" y="241.25" width="5.80" height="5.80" fill="#F0E442"/>
<rect x="326.74" y="241.36" width="5.80" height="5.80" fill="#F0E442"/>
<rect x="336.63" y="241.50" width="5.80" height="5.80" fill="#F0E442"/>
<rect x="343.23" y="241.58" width="5.80" height="5.80" fill="#F0E442"/>
<rect x="353.12" y="241.68" width="5.80" height="5.80" fill="#F0E442"/>
<rect x="359.72" y="241.74" width="5.80" height="5.80" fill="#F0E442"/>
<rect x="369.61" y="241.83" width="5.80" height="5.80" fill="#F0E442"/>
<rect x="376.21" y="241.87" width="5.80" height="5.80" fill="#F0E442"/>
<rect x="386.10" y="241.92" width="5.80" height="5.80" fill="#F0E442"/>
</g>
<g>
<circle cx="59.20" cy="5.30" r="2.8" stroke="#0072B2" stroke-width="1.0" fill="none"/><circle cx="59.20" cy="5.30" r="0.5" fill="#0072B2" fill-opacity="0.8"/>
<circle cx="62.50" cy="5.97" r="2.8" stroke="#0072B2" stroke-width="1.0" fill="none"/><circle cx="62.50" cy="5.97" r="0.5" fill="#0072B2" fill-opacity="0.8"/>
<circle cx="65.80" cy="6.75" r="2.8" stroke="#0072B2" stroke-width="1.0" fill="none"/><circle cx="65.80" cy="6.75" r="0.5" fill="#0072B2" fill-opacity="0.8"/>
<circle cx="69.09" cy="7.66" r="2.8" stroke="#0072B2" stroke-width="1.0" fill="none"/><circle cx="69.09" cy="7.66" r="0.5" fill="#0072B2" fill-opacity="0.8"/>
<circle cx="72.39" cy="8.77" r="2.8" stroke="#0072B2" stroke-width="1.0" fill="none"/><circle cx="72.39" cy="8.77" r="0.5" fill="#0072B2" fill-opacity="0.8"/>
<circle cx="75.69" cy="10.08" r="2.8" stroke="#0072B2" stroke-width="1.0" fill="none"/><circle cx="75.69" cy="10.08" r="0.5" fill="#0072B2" fill-opacity="0.8"/>
<circle cx="78.99" cy="11.71" r="2.8" stroke="#0072B2" stroke-width="1.0" fill="none"/><circle cx="78.99" cy="11.71" r="0.5" fill="#0072B2" fill-opacity="0.8"/>
<circle cx="82.29" cy="13.68" r="2.8" stroke="#0072B2" stroke-width="1.0" fill="none"/><circle cx="82.29" cy="13.68" r="0.5" fill="#0072B2" fill-opacity="0.8"/>
<circle cx="85.58" cy="16.08" r="2.8" stroke="#0072B2" stroke-width="1.0" fill="none"/><circle cx="85.58" cy="16.08" r="0.5" fill="#0072B2" fill-opacity="0.8"/>
<circle cx="88.88" cy="18.88" r="2.8" stroke="#0072B2" stroke-width="1.0" fill="none"/><circle cx="88.88" cy="18.88" r="0.5" fill="#0072B2" fill-opacity="0.8"/>
<circle cx="92.18" cy="22.02" r="2.8" stroke="#0072B2" stroke-width="1.0" fill="none"/><circle cx="92.18" cy="22.02" r="0.5" fill="#0072B2" fill-opacity="0.8"/>
<circle cx="95.48" cy="25.50" r="2.8" stroke="#0072B2" stroke-width="1.0" fill="none"/><circle cx="95.48" cy="25.50" r="0.5" fill="#0072B2" fill-opacity="0.8"/>
<circle cx="98.78" cy="29.28" r="2.8" stroke="#0072B2" stroke-width="1.0" fill="none"/><circle cx="98.78" cy="29.28" r="0.5" fill="#0072B2" fill-opacity="0.8"/>
<circle cx="102.07" cy="33.40" r="2.8" stroke="#0072B2" stroke-width="1.0" fill="none"/><circle cx="102.07" cy="33.40" r="0.5" fill="#0072B2" fill-opacity="0.8"/>
<circle cx="105.37" cy="37.84" r="2.8" stroke="#0072B2" stroke-width="1.0" fill="none"/><circle cx="105.37" cy="37.84" r="0.5" fill="#0072B2" fill-opacity="0.8"/>
<circle cx="108.67" cy="42.62" r="2.8" stroke="#0072B2" stroke-width="1.0" fill="none"/><circle cx="108.67" cy="42.62" r="0.5" fill="#0072B2" fill-opacity="0.8"/>
<circle cx="111.97" cy="47.77" r="2.8" stroke="#0072B2" stroke-width="1.0" fill="none"/><circle cx="111.97" cy="47.77" r="0.5" fill="#0072B2" fill-opacity="0.8"/>
<circle cx="115.27" cy="53.36" r="2.8" stroke="#0072B2" stroke-width="1.0" fill="none"/><circle cx="115.27" cy="53.36" r="0.5" fill="#0072B2" fill-opacity="0.8"/>
<circle cx="118.56" cy="59.63" r="2.8" stroke="#0072B2" stroke-width="1.0" fill="none"/><circle cx="118.56" cy="59.63" r="0.5" fill="#0072B2" fill-opacity="0.8"/>
<circle cx="121.86" cy="66.51" r="2.8" stroke="#0072B2" stroke-width="1.0" fill="none"/><circle cx="121.86" cy="66.51" r="0.5" fill="#0072B2" fill-opacity="0.8"/>
<circle cx="125.16" cy="74.21" r="2.8" stroke="#0072B2" stroke-width="1.0" fill="none"/><circle cx="125.16" cy="74.21" r="0.5" fill="#0072B2" fill-opacity="0.8"/>
<circle cx="128.46" cy="83.38" r="2.8" stroke="#0072B2" stroke-width="1.0" fill="none"/><circle cx="128.46" cy="83.38" r="0.5" fill="#0072B2" fill-opacity="0.8"/>
<circle cx="131.76" cy="93.79" r="2.8" stroke="#0072B2" stroke-width="1.0" fill="none"/><circle cx="131.76" cy="93.79" r="0.5" fill="#0072B2" fill-opacity="0.8"/>
<circle cx="135.05" cy="105.86" r="2.8" stroke="#0072B2" stroke-width="1.0" fill="none"/><circle cx="135.05" cy="105.86" r="0.5" fill="#0072B2" fill-opacity="0.8"/>
<circle cx="138.35" cy="118.60" r="2.8" stroke="#0072B2" stroke-width="1.0" fill="none"/><circle cx="138.35" cy="118.60" r="0.5" fill="#0072B2" fill-opacity="0.8"/>
<circle cx="141.65" cy="131.38" r="2.8" stroke="#0072B2" stroke-width="1.0" fill="none"/><circle cx="141.65" cy="131.38" r="0.5" fill="#0072B2" fill-opacity="0.8"/>
<circle cx="144.95" cy="146.94" r="2.8" stroke="#0072B2" stroke-width="1.0" fill="none"/><circle cx="144.95" cy="146.94" r="0.5" fill="#0072B2" fill-opacity="0.8"/>
<circle cx="148.25" cy="161.68" r="2.8" stroke="#0072B2" stroke-width="1.0" fill="none"/><circle cx="148.25" cy="161.68" r="0.5" fill="#0072B2" fill-opacity="0.8"/>
<circle cx="151.54" cy="174.25" r="2.8" stroke="#0072B2" stroke-width="1.0" fill="none"/><circle cx="151.54" cy="174.25" r="0.5" fill="#0072B2" fill-opacity="0.8"/>
<circle cx="154.84" cy="185.85" r="2.8" stroke="#0072B2" stroke-width="1.0" fill="none"/><circle cx="154.84" cy="185.85" r="0.5" fill="#0072B2" fill-opacity="0.8"/>
<circle cx="158.14" cy="194.55" r="2.8" stroke="#0072B2" stroke-width="1.0" fill="none"/><circle cx="158.14" cy="194.55" r="0.5" fill="#0072B2" fill-opacity="0.8"/>
<circle cx="164.74" cy="206.88" r="2.8" stroke="#0072B2" stroke-width="1.0" fill="none"/><circle cx="164.74" cy="206.88" r="0.5" fill="#0072B2" fill-opacity="0.8"/>
<circle cx="174.63" cy="218.00" r="2.8" stroke="#0072B2" stroke-width="1.0" fill="none"/><circle cx="174.63" cy="218.00" r="0.5" fill="#0072B2" fill-opacity="0.8"/>
<circle cx="181.23" cy="223.07" r="2.8" stroke="#0072B2" stroke-width="1.0" fill="none"/><circle cx="181.23" cy="223.07" r="0.5" fill="#0072B2" fill-opacity="0.8"/>
<circle cx="191.12" cy="227.66" r="2.8" stroke="#0072B2" stroke-width="1.0" fill="none"/><circle cx="191.12" cy="227.66" r="0.5" fill="#0072B2" fill-opacity="0.8"/>
<circle cx="197.72" cy="230.56" r="2.8" stroke="#0072B2" stroke-width="1.0" fill="none"/><circle cx="197.72" cy="230.56" r="0.5" fill="#0072B2" fill-opacity="0.8"/>
<circle cx="207.61" cy="233.22" r="2.8" stroke="#0072B2" stroke-width="1.0" fill="none"/><circle cx="207.61" cy="233.22" r="0.5" fill="#0072B2" fill-opacity="0.8"/>
<circle cx="214.21" cy="234.32" r="2.8" stroke="#0072B2" stroke-width="1.0" fill="none"/><circle cx="214.21" cy="234.32" r="0.5" fill="#0072B2" fill-opacity="0.8"/>
<circle cx="224.10" cy="235.64" r="2.8" stroke="#0072B2" stroke-width="1.0" fill="none"/><circle cx="224.10" cy="235.64" r="0.5" fill="#0072B2" fill-opacity="0.8"/>
<circle cx="240.59" cy="237.91" r="2.8" stroke="#0072B2" stroke-width="1.0" fill="none"/><circle cx="240.59" cy="237.91" r="0.5" fill="#0072B2" fill-opacity="0.8"/>
<circle cx="247.19" cy="238.71" r="2.8" stroke="#0072B2" stroke-width="1.0" fill="none"/><circle cx="247.19" cy="238.71" r="0.5" fill="#0072B2" fill-opacity="0.8"/>
<circle cx="257.08" cy="239.60" r="2.8" stroke="#0072B2" stroke-width="1.0" fill="none"/><circle cx="257.08" cy="239.60" r="0.5" fill="#0072B2" fill-opacity="0.8"/>
<circle cx="273.57" cy="240.50" r="2.8" stroke="#0072B2" stroke-width="1.0" fill="none"/><circle cx="273.57" cy="240.50" r="0.5" fill="#0072B2" fill-opacity="0.8"/>
<circle cx="290.06" cy="241.15" r="2.8" stroke="#0072B2" stroke-width="1.0" fill="none"/><circle cx="290.06" cy="241.15" r="0.5" fill="#0072B2" fill-opacity="0.8"/>
<circle cx="306.55" cy="241.68" r="2.8" stroke="#0072B2" stroke-width="1.0" fill="none"/><circle cx="306.55" cy="241.68" r="0.5" fill="#0072B2" fill-opacity="0.8"/>
<circle cx="313.15" cy="241.88" r="2.8" stroke="#0072B2" stroke-width="1.0" fill="none"/><circle cx="313.15" cy="241.88" r="0.5" fill="#0072B2" fill-opacity="0.8"/>
<circle cx="323.04" cy="242.15" r="2.8" stroke="#0072B2" stroke-width="1.0" fill="none"/><circle cx="323.04" cy="242.15" r="0.5" fill="#0072B2" fill-opacity="0.8"/>
<circle cx="329.64" cy="242.31" r="2.8" stroke="#0072B2" stroke-width="1.0" fill="none"/><circle cx="329.64" cy="242.31" r="0.5" fill="#0072B2" fill-opacity="0.8"/>
<circle cx="339.53" cy="242.54" r="2.8" stroke="#0072B2" stroke-width="1.0" fill="none"/><circle cx="339.53" cy="242.54" r="0.5" fill="#0072B2" fill-opacity="0.8"/>
<circle cx="346.13" cy="242.68" r="2.8" stroke="#0072B2" stroke-width="1.0" fill="none"/><circle cx="346.13" cy="242.68" r="0.5" fill="#0072B2" fill-opacity="0.8"/>
<circle cx="356.02" cy="242.89" r="2.8" stroke="#0072B2" stroke-width="1.0" fill="none"/><circle cx="356.02" cy="242.89" r="0.5" fill="#0072B2" fill-opacity="0.8"/>
<circle cx="362.62" cy="243.02" r="2.8" stroke="#0072B2" stroke-width="1.0" fill="none"/><circle cx="362.62" cy="243.02" r="0.5" fill="#0072B2" fill-opacity="0.8"/>
<circle cx="372.51" cy="243.21" r="2.8" stroke="#0072B2" stroke-width="1.0" fill="none"/><circle cx="372.51" cy="243.21" r="0.5" fill="#0072B2" fill-opacity="0.8"/>
<circle cx="379.11" cy="243.33" r="2.8" stroke="#0072B2" stroke-width="1.0" fill="none"/><circle cx="379.11" cy="243.33" r="0.5" fill="#0072B2" fill-opacity="0.8"/>
<circle cx="389.00" cy="243.50" r="2.8" stroke="#0072B2" stroke-width="1.0" fill="none"/><circle cx="389.00" cy="243.50" r="0.5" fill="#0072B2" fill-opacity="0.8"/>
</g>
<g>
<circle cx="59.20" cy="5.30" r="2.95" fill="#E51E10"/>
<circle cx="62.50" cy="5.87" r="2.95" fill="#E51E10"/>
<circle cx="65.80" cy="6.52" r="2.95" fill="#E51E10"/>
<circle cx="69.09" cy="7.27" r="2.95" fill="#E51E10"/>
<circle cx="72.39" cy="8.16" r="2.95" fill="#E51E10"/>
<circle cx="75.69" cy="9.22" r="2.95" fill="#E51E10"/>
<circle cx="78.99" cy="10.47" r="2.95" fill="#E51E10"/>
<circle cx="82.29" cy="12.04" r="2.95" fill="#E51E10"/>
<circle cx="85.58" cy="13.95" r="2.95" fill="#E51E10"/>
<circle cx="88.88" cy="16.29" r="2.95" fill="#E51E10"/>
<circle cx="92.18" cy="19.04" r="2.95" fill="#E51E10"/>
<circle cx="95.48" cy="22.16" r="2.95" fill="#E51E10"/>
<circle cx="98.78" cy="25.63" r="2.95" fill="#E51E10"/>
<circle cx="102.07" cy="29.41" r="2.95" fill="#E51E10"/>
<circle cx="105.37" cy="33.55" r="2.95" fill="#E51E10"/>
<circle cx="108.67" cy="38.00" r="2.95" fill="#E51E10"/>
<circle cx="111.97" cy="42.80" r="2.95" fill="#E51E10"/>
<circle cx="115.27" cy="47.98" r="2.95" fill="#E51E10"/>
<circle cx="118.56" cy="53.62" r="2.95" fill="#E51E10"/>
<circle cx="121.86" cy="60.03" r="2.95" fill="#E51E10"/>
<circle cx="125.16" cy="67.08" r="2.95" fill="#E51E10"/>
<circle cx="128.46" cy="75.15" r="2.95" fill="#E51E10"/>
<circle cx="131.76" cy="84.98" r="2.95" fill="#E51E10"/>
<circle cx="135.05" cy="95.35" r="2.95" fill="#E51E10"/>
<circle cx="138.35" cy="105.86" r="2.95" fill="#E51E10"/>
<circle cx="141.65" cy="117.88" r="2.95" fill="#E51E10"/>
<circle cx="144.95" cy="131.66" r="2.95" fill="#E51E10"/>
<circle cx="148.25" cy="144.04" r="2.95" fill="#E51E10"/>
<circle cx="151.54" cy="157.09" r="2.95" fill="#E51E10"/>
<circle cx="154.84" cy="168.45" r="2.95" fill="#E51E10"/>
<circle cx="158.14" cy="179.32" r="2.95" fill="#E51E10"/>
<circle cx="164.74" cy="193.83" r="2.95" fill="#E51E10"/>
<circle cx="174.63" cy="208.33" r="2.95" fill="#E51E10"/>
<circle cx="181.23" cy="213.65" r="2.95" fill="#E51E10"/>
<circle cx="191.12" cy="220.17" r="2.95" fill="#E51E10"/>
<circle cx="197.72" cy="223.80" r="2.95" fill="#E51E10"/>
<circle cx="207.61" cy="227.18" r="2.95" fill="#E51E10"/>
<circle cx="214.21" cy="228.80" r="2.95" fill="#E51E10"/>
<circle cx="224.10" cy="230.81" r="2.95" fill="#E51E10"/>
<circle cx="240.59" cy="233.90" r="2.95" fill="#E51E10"/>
<circle cx="247.19" cy="234.96" r="2.95" fill="#E51E10"/>
<circle cx="257.08" cy="236.12" r="2.95" fill="#E51E10"/>
<circle cx="273.57" cy="237.27" r="2.95" fill="#E51E10"/>
<circle cx="290.06" cy="238.09" r="2.95" fill="#E51E10"/>
<circle cx="306.55" cy="238.78" r="2.95" fill="#E51E10"/>
<circle cx="313.15" cy="239.05" r="2.95" fill="#E51E10"/>
<circle cx="323.04" cy="239.43" r="2.95" fill="#E51E10"/>
<circle cx="329.64" cy="239.67" r="2.95" fill="#E51E10"/>
<circle cx="339.53" cy="240.00" r="2.95" fill="#E51E10"/>
<circle cx="346.13" cy="240.20" r="2.95" fill="#E51E10"/>
<circle cx="356.02" cy="240.47" r="2.95" fill="#E51E10"/>
<circle cx="362.62" cy="240.64" r="2.95" fill="#E51E10"/>
<circle cx="372.51" cy="240.87" r="2.95" fill="#E51E10"/>
<circle cx="379.11" cy="241.01" r="2.95" fill="#E51E10"/>
<circle cx="389.00" cy="241.20" r="2.95" fill="#E51E10"/>
</g>
<g>
<path d="M59.20 1.83L56.10 6.85H62.30Z" stroke="#000000" stroke-width="0.8" fill="none"/><circle cx="59.20" cy="5.30" r="0.5" fill="#000000" fill-opacity="0.8"/>
<path d="M62.50 2.29L59.40 7.31H65.60Z" stroke="#000000" stroke-width="0.8" fill="none"/><circle cx="62.50" cy="5.76" r="0.5" fill="#000000" fill-opacity="0.8"/>
<path d="M65.80 2.80L62.70 7.82H68.90Z" stroke="#000000" stroke-width="0.8" fill="none"/><circle cx="65.80" cy="6.27" r="0.5" fill="#000000" fill-opacity="0.8"/>
<path d="M69.09 3.38L65.99 8.40H72.19Z" stroke="#000000" stroke-width="0.8" fill="none"/><circle cx="69.09" cy="6.85" r="0.5" fill="#000000" fill-opacity="0.8"/>
<path d="M72.39 4.03L69.29 9.05H75.49Z" stroke="#000000" stroke-width="0.8" fill="none"/><circle cx="72.39" cy="7.50" r="0.5" fill="#000000" fill-opacity="0.8"/>
<path d="M75.69 4.81L72.59 9.83H78.79Z" stroke="#000000" stroke-width="0.8" fill="none"/><circle cx="75.69" cy="8.28" r="0.5" fill="#000000" fill-opacity="0.8"/>
<path d="M78.99 5.71L75.89 10.73H82.09Z" stroke="#000000" stroke-width="0.8" fill="none"/><circle cx="78.99" cy="9.18" r="0.5" fill="#000000" fill-opacity="0.8"/>
<path d="M82.29 6.76L79.19 11.79H85.39Z" stroke="#000000" stroke-width="0.8" fill="none"/><circle cx="82.29" cy="10.24" r="0.5" fill="#000000" fill-opacity="0.8"/>
<path d="M85.58 8.07L82.48 13.10H88.68Z" stroke="#000000" stroke-width="0.8" fill="none"/><circle cx="85.58" cy="11.55" r="0.5" fill="#000000" fill-opacity="0.8"/>
<path d="M88.88 9.67L85.78 14.69H91.98Z" stroke="#000000" stroke-width="0.8" fill="none"/><circle cx="88.88" cy="13.14" r="0.5" fill="#000000" fill-opacity="0.8"/>
<path d="M92.18 11.66L89.08 16.68H95.28Z" stroke="#000000" stroke-width="0.8" fill="none"/><circle cx="92.18" cy="15.13" r="0.5" fill="#000000" fill-opacity="0.8"/>
<path d="M95.48 14.10L92.38 19.12H98.58Z" stroke="#000000" stroke-width="0.8" fill="none"/><circle cx="95.48" cy="17.57" r="0.5" fill="#000000" fill-opacity="0.8"/>
<path d="M98.78 16.91L95.68 21.93H101.88Z" stroke="#000000" stroke-width="0.8" fill="none"/><circle cx="98.78" cy="20.38" r="0.5" fill="#000000" fill-opacity="0.8"/>
<path d="M102.07 20.16L98.97 25.19H105.17Z" stroke="#000000" stroke-width="0.8" fill="none"/><circle cx="102.07" cy="23.64" r="0.5" fill="#000000" fill-opacity="0.8"/>
<path d="M105.37 23.73L102.27 28.75H108.47Z" stroke="#000000" stroke-width="0.8" fill="none"/><circle cx="105.37" cy="27.20" r="0.5" fill="#000000" fill-opacity="0.8"/>
<path d="M108.67 27.66L105.57 32.68H111.77Z" stroke="#000000" stroke-width="0.8" fill="none"/><circle cx="108.67" cy="31.13" r="0.5" fill="#000000" fill-opacity="0.8"/>
<path d="M111.97 31.93L108.87 36.96H115.07Z" stroke="#000000" stroke-width="0.8" fill="none"/><circle cx="111.97" cy="35.41" r="0.5" fill="#000000" fill-opacity="0.8"/>
<path d="M115.27 36.53L112.17 41.55H118.37Z" stroke="#000000" stroke-width="0.8" fill="none"/><circle cx="115.27" cy="40.00" r="0.5" fill="#000000" fill-opacity="0.8"/>
<path d="M118.56 41.50L115.46 46.52H121.66Z" stroke="#000000" stroke-width="0.8" fill="none"/><circle cx="118.56" cy="44.97" r="0.5" fill="#000000" fill-opacity="0.8"/>
<path d="M121.86 46.78L118.76 51.81H124.96Z" stroke="#000000" stroke-width="0.8" fill="none"/><circle cx="121.86" cy="50.26" r="0.5" fill="#000000" fill-opacity="0.8"/>
<path d="M125.16 52.99L122.06 58.01H128.26Z" stroke="#000000" stroke-width="0.8" fill="none"/><circle cx="125.16" cy="56.46" r="0.5" fill="#000000" fill-opacity="0.8"/>
<path d="M128.46 60.46L125.36 65.48H131.56Z" stroke="#000000" stroke-width="0.8" fill="none"/><circle cx="128.46" cy="63.93" r="0.5" fill="#000000" fill-opacity="0.8"/>
<path d="M131.76 68.87L128.66 73.89H134.86Z" stroke="#000000" stroke-width="0.8" fill="none"/><circle cx="131.76" cy="72.34" r="0.5" fill="#000000" fill-opacity="0.8"/>
<path d="M135.05 76.91L131.95 81.93H138.15Z" stroke="#000000" stroke-width="0.8" fill="none"/><circle cx="135.05" cy="80.38" r="0.5" fill="#000000" fill-opacity="0.8"/>
<path d="M138.35 85.63L135.25 90.65H141.45Z" stroke="#000000" stroke-width="0.8" fill="none"/><circle cx="138.35" cy="89.10" r="0.5" fill="#000000" fill-opacity="0.8"/>
<path d="M141.65 94.88L138.55 99.90H144.75Z" stroke="#000000" stroke-width="0.8" fill="none"/><circle cx="141.65" cy="98.35" r="0.5" fill="#000000" fill-opacity="0.8"/>
<path d="M144.95 105.00L141.85 110.02H148.05Z" stroke="#000000" stroke-width="0.8" fill="none"/><circle cx="144.95" cy="108.47" r="0.5" fill="#000000" fill-opacity="0.8"/>
<path d="M148.25 116.33L145.15 121.35H151.35Z" stroke="#000000" stroke-width="0.8" fill="none"/><circle cx="148.25" cy="119.80" r="0.5" fill="#000000" fill-opacity="0.8"/>
<path d="M151.54 129.25L148.44 134.27H154.64Z" stroke="#000000" stroke-width="0.8" fill="none"/><circle cx="151.54" cy="132.72" r="0.5" fill="#000000" fill-opacity="0.8"/>
<path d="M154.84 140.32L151.74 145.34H157.94Z" stroke="#000000" stroke-width="0.8" fill="none"/><circle cx="154.84" cy="143.79" r="0.5" fill="#000000" fill-opacity="0.8"/>
<path d="M158.14 150.23L155.04 155.25H161.24Z" stroke="#000000" stroke-width="0.8" fill="none"/><circle cx="158.14" cy="153.70" r="0.5" fill="#000000" fill-opacity="0.8"/>
<path d="M164.74 168.12L161.64 173.14H167.84Z" stroke="#000000" stroke-width="0.8" fill="none"/><circle cx="164.74" cy="171.59" r="0.5" fill="#000000" fill-opacity="0.8"/>
<path d="M174.63 186.25L171.53 191.27H177.73Z" stroke="#000000" stroke-width="0.8" fill="none"/><circle cx="174.63" cy="189.72" r="0.5" fill="#000000" fill-opacity="0.8"/>
<path d="M181.23 194.95L178.13 199.97H184.33Z" stroke="#000000" stroke-width="0.8" fill="none"/><circle cx="181.23" cy="198.42" r="0.5" fill="#000000" fill-opacity="0.8"/>
<path d="M191.12 204.13L188.02 209.15H194.22Z" stroke="#000000" stroke-width="0.8" fill="none"/><circle cx="191.12" cy="207.60" r="0.5" fill="#000000" fill-opacity="0.8"/>
<path d="M197.72 208.24L194.62 213.26H200.82Z" stroke="#000000" stroke-width="0.8" fill="none"/><circle cx="197.72" cy="211.71" r="0.5" fill="#000000" fill-opacity="0.8"/>
<path d="M207.61 213.80L204.51 218.82H210.71Z" stroke="#000000" stroke-width="0.8" fill="none"/><circle cx="207.61" cy="217.27" r="0.5" fill="#000000" fill-opacity="0.8"/>
<path d="M214.21 216.56L211.11 221.58H217.31Z" stroke="#000000" stroke-width="0.8" fill="none"/><circle cx="214.21" cy="220.03" r="0.5" fill="#000000" fill-opacity="0.8"/>
<path d="M224.10 219.84L221.00 224.86H227.20Z" stroke="#000000" stroke-width="0.8" fill="none"/><circle cx="224.10" cy="223.31" r="0.5" fill="#000000" fill-opacity="0.8"/>
<path d="M240.59 223.94L237.49 228.96H243.69Z" stroke="#000000" stroke-width="0.8" fill="none"/><circle cx="240.59" cy="227.41" r="0.5" fill="#000000" fill-opacity="0.8"/>
<path d="M247.19 225.27L244.09 230.29H250.29Z" stroke="#000000" stroke-width="0.8" fill="none"/><circle cx="247.19" cy="228.74" r="0.5" fill="#000000" fill-opacity="0.8"/>
<path d="M257.08 226.85L253.98 231.87H260.18Z" stroke="#000000" stroke-width="0.8" fill="none"/><circle cx="257.08" cy="230.32" r="0.5" fill="#000000" fill-opacity="0.8"/>
<path d="M273.57 228.74L270.47 233.76H276.67Z" stroke="#000000" stroke-width="0.8" fill="none"/><circle cx="273.57" cy="232.21" r="0.5" fill="#000000" fill-opacity="0.8"/>
<path d="M290.06 230.19L286.96 235.21H293.16Z" stroke="#000000" stroke-width="0.8" fill="none"/><circle cx="290.06" cy="233.66" r="0.5" fill="#000000" fill-opacity="0.8"/>
<path d="M306.55 231.44L303.45 236.47H309.65Z" stroke="#000000" stroke-width="0.8" fill="none"/><circle cx="306.55" cy="234.91" r="0.5" fill="#000000" fill-opacity="0.8"/>
<path d="M313.15 231.93L310.05 236.95H316.25Z" stroke="#000000" stroke-width="0.8" fill="none"/><circle cx="313.15" cy="235.40" r="0.5" fill="#000000" fill-opacity="0.8"/>
<path d="M323.04 232.60L319.94 237.63H326.14Z" stroke="#000000" stroke-width="0.8" fill="none"/><circle cx="323.04" cy="236.08" r="0.5" fill="#000000" fill-opacity="0.8"/>
<path d="M329.64 233.03L326.54 238.05H332.74Z" stroke="#000000" stroke-width="0.8" fill="none"/><circle cx="329.64" cy="236.50" r="0.5" fill="#000000" fill-opacity="0.8"/>
<path d="M339.53 233.63L336.43 238.66H342.63Z" stroke="#000000" stroke-width="0.8" fill="none"/><circle cx="339.53" cy="237.11" r="0.5" fill="#000000" fill-opacity="0.8"/>
<path d="M346.13 234.02L343.03 239.04H349.23Z" stroke="#000000" stroke-width="0.8" fill="none"/><circle cx="346.13" cy="237.49" r="0.5" fill="#000000" fill-opacity="0.8"/>
<path d="M356.02 234.59L352.92 239.61H359.12Z" stroke="#000000" stroke-width="0.8" fill="none"/><circle cx="356.02" cy="238.06" r="0.5" fill="#000000" fill-opacity="0.8"/>
<path d="M362.62 234.95L359.52 239.97H365.72Z" stroke="#000000" stroke-width="0.8" fill="none"/><circle cx="362.62" cy="238.42" r="0.5" fill="#000000" fill-opacity="0.8"/>
<path d="M372.51 235.47L369.41 240.49H375.61Z" stroke="#000000" stroke-width="0.8" fill="none"/><circle cx="372.51" cy="238.94" r="0.5" fill="#000000" fill-opacity="0.8"/>
<path d="M379.11 235.80L376.01 240.83H382.21Z" stroke="#000000" stroke-width="0.8" fill="none"/><circle cx="379.11" cy="239.28" r="0.5" fill="#000000" fill-opacity="0.8"/>
<path d="M389.00 236.28L385.90 241.30H392.10Z" stroke="#000000" stroke-width="0.8" fill="none"/><circle cx="389.00" cy="239.75" r="0.5" fill="#000000" fill-opacity="0.8"/>
</g>
<g>
<path d="M59.20 1.83L56.10 6.85H62.30Z" fill="#9400D3"/>
<path d="M62.50 2.17L59.40 7.19H65.60Z" fill="#9400D3"/>
<path d="M65.80 2.54L62.70 7.56H68.90Z" fill="#9400D3"/>
<path d="M69.09 2.94L65.99 7.96H72.19Z" fill="#9400D3"/>
<path d="M72.39 3.38L69.29 8.41H75.49Z" fill="#9400D3"/>
<path d="M75.69 3.88L72.59 8.90H78.79Z" fill="#9400D3"/>
<path d="M78.99 4.44L75.89 9.47H82.09Z" fill="#9400D3"/>
<path d="M82.29 5.09L79.19 10.11H85.39Z" fill="#9400D3"/>
<path d="M85.58 5.82L82.48 10.84H88.68Z" fill="#9400D3"/>
<path d="M88.88 6.67L85.78 11.69H91.98Z" fill="#9400D3"/>
<path d="M92.18 7.69L89.08 12.72H95.28Z" fill="#9400D3"/>
<path d="M95.48 8.94L92.38 13.96H98.58Z" fill="#9400D3"/>
<path d="M98.78 10.47L95.68 15.49H101.88Z" fill="#9400D3"/>
<path d="M102.07 12.40L98.97 17.42H105.17Z" fill="#9400D3"/>
<path d="M105.37 14.78L102.27 19.80H108.47Z" fill="#9400D3"/>
<path d="M108.67 17.54L105.57 22.56H111.77Z" fill="#9400D3"/>
<path d="M111.97 20.80L108.87 25.82H115.07Z" fill="#9400D3"/>
<path d="M115.27 24.40L112.17 29.42H118.37Z" fill="#9400D3"/>
<path d="M118.56 28.34L115.46 33.36H121.66Z" fill="#9400D3"/>
<path d="M121.86 32.58L118.76 37.60H124.96Z" fill="#9400D3"/>
<path d="M125.16 37.14L122.06 42.16H128.26Z" fill="#9400D3"/>
<path d="M128.46 42.07L125.36 47.09H131.56Z" fill="#9400D3"/>
<path d="M131.76 47.38L128.66 52.40H134.86Z" fill="#9400D3"/>
<path d="M135.05 53.11L131.95 58.13H138.15Z" fill="#9400D3"/>
<path d="M138.35 59.34L135.25 64.37H141.45Z" fill="#9400D3"/>
<path d="M141.65 66.13L138.55 71.16H144.75Z" fill="#9400D3"/>
<path d="M144.95 73.57L141.85 78.59H148.05Z" fill="#9400D3"/>
<path d="M148.25 81.84L145.15 86.86H151.35Z" fill="#9400D3"/>
<path d="M151.54 90.49L148.44 95.51H154.64Z" fill="#9400D3"/>
<path d="M154.84 97.78L151.74 102.80H157.94Z" fill="#9400D3"/>
<path d="M158.14 106.24L155.04 111.26H161.24Z" fill="#9400D3"/>
<path d="M164.74 122.68L161.64 127.70H167.84Z" fill="#9400D3"/>
<path d="M174.63 144.67L171.53 149.69H177.73Z" fill="#9400D3"/>
<path d="M181.23 156.52L178.13 161.54H184.33Z" fill="#9400D3"/>
<path d="M191.12 170.53L188.02 175.56H194.22Z" fill="#9400D3"/>
<path d="M197.72 178.75L194.62 183.77H200.82Z" fill="#9400D3"/>
<path d="M207.61 187.70L204.51 192.72H210.71Z" fill="#9400D3"/>
<path d="M214.21 191.80L211.11 196.83H217.31Z" fill="#9400D3"/>
<path d="M224.10 198.33L221.00 203.35H227.20Z" fill="#9400D3"/>
<path d="M240.59 205.58L237.49 210.60H243.69Z" fill="#9400D3"/>
<path d="M247.19 208.00L244.09 213.02H250.29Z" fill="#9400D3"/>
<path d="M257.08 211.14L253.98 216.16H260.18Z" fill="#9400D3"/>
<path d="M273.57 215.01L270.47 220.03H276.67Z" fill="#9400D3"/>
<path d="M290.06 218.39L286.96 223.41H293.16Z" fill="#9400D3"/>
<path d="M306.55 221.29L303.45 226.31H309.65Z" fill="#9400D3"/>
<path d="M313.15 221.93L310.05 226.95H316.25Z" fill="#9400D3"/>
<path d="M323.04 222.74L319.94 227.76H326.14Z" fill="#9400D3"/>
<path d="M329.64 223.40L326.54 228.42H332.74Z" fill="#9400D3"/>
<path d="M339.53 224.43L336.43 229.46H342.63Z" fill="#9400D3"/>
<path d="M346.13 225.12L343.03 230.14H349.23Z" fill="#9400D3"/>
<path d="M356.02 226.13L352.92 231.15H359.12Z" fill="#9400D3"/>
<path d="M362.62 226.71L359.52 231.73H365.72Z" fill="#9400D3"/>
<path d="M372.51 227.58L369.41 232.60H375.61Z" fill="#9400D3"/>
<path d="M379.11 228.22L376.01 233.24H382.21Z" fill="#9400D3"/>
<path d="M389.00 229.27L385.90 234.29H392.10Z" fill="#9400D3"/>
</g>
<g>
<path d="M59.20 8.77L56.10 3.75H62.30Z" stroke="#009E73" stroke-width="0.8" fill="none"/><circle cx="59.20" cy="5.30" r="0.5" fill="#009E73" fill-opacity="0.8"/>
<path d="M62.50 8.77L59.40 3.75H65.60Z" stroke="#009E73" stroke-width="0.8" fill="none"/><circle cx="62.50" cy="5.30" r="0.5" fill="#009E73" fill-opacity="0.8"/>
<path d="M65.80 8.77L62.70 3.75H68.90Z" stroke="#009E73" stroke-width="0.8" fill="none"/><circle cx="65.80" cy="5.30" r="0.5" fill="#009E73" fill-opacity="0.8"/>
<path d="M69.09 8.77L65.99 3.75H72.19Z" stroke="#009E73" stroke-width="0.8" fill="none"/><circle cx="69.09" cy="5.30" r="0.5" fill="#009E73" fill-opacity="0.8"/>
<path d="M72.39 8.77L69.29 3.75H75.49Z" stroke="#009E73" stroke-width="0.8" fill="none"/><circle cx="72.39" cy="5.30" r="0.5" fill="#009E73" fill-opacity="0.8"/>
<path d="M75.69 8.77L72.59 3.75H78.79Z" stroke="#009E73" stroke-width="0.8" fill="none"/><circle cx="75.69" cy="5.30" r="0.5" fill="#009E73" fill-opacity="0.8"/>
<path d="M78.99 8.77L75.89 3.75H82.09Z" stroke="#009E73" stroke-width="0.8" fill="none"/><circle cx="78.99" cy="5.30" r="0.5" fill="#009E73" fill-opacity="0.8"/>
<path d="M82.29 8.77L79.19 3.75H85.39Z" stroke="#009E73" stroke-width="0.8" fill="none"/><circle cx="82.29" cy="5.30" r="0.5" fill="#009E73" fill-opacity="0.8"/>
<path d="M85.58 8.77L82.48 3.75H88.68Z" stroke="#009E73" stroke-width="0.8" fill="none"/><circle cx="85.58" cy="5.30" r="0.5" fill="#009E73" fill-opacity="0.8"/>
<path d="M88.88 8.77L85.78 3.75H91.98Z" stroke="#009E73" stroke-width="0.8" fill="none"/><circle cx="88.88" cy="5.30" r="0.5" fill="#009E73" fill-opacity="0.8"/>
<path d="M92.18 8.77L89.08 3.75H95.28Z" stroke="#009E73" stroke-width="0.8" fill="none"/><circle cx="92.18" cy="5.30" r="0.5" fill="#009E73" fill-opacity="0.8"/>
<path d="M95.48 8.77L92.38 3.75H98.58Z" stroke="#009E73" stroke-width="0.8" fill="none"/><circle cx="95.48" cy="5.30" r="0.5" fill="#009E73" fill-opacity="0.8"/>
<path d="M98.78 8.77L95.68 3.75H101.88Z" stroke="#009E73" stroke-width="0.8" fill="none"/><circle cx="98.78" cy="5.30" r="0.5" fill="#009E73" fill-opacity="0.8"/>
<path d="M102.07 8.77L98.97 3.75H105.17Z" stroke="#009E73" stroke-width="0.8" fill="none"/><circle cx="102.07" cy="5.30" r="0.5" fill="#009E73" fill-opacity="0.8"/>
<path d="M105.37 8.77L102.27 3.75H108.47Z" stroke="#009E73" stroke-width="0.8" fill="none"/><circle cx="105.37" cy="5.30" r="0.5" fill="#009E73" fill-opacity="0.8"/>
<path d="M108.67 8.77L105.57 3.75H111.77Z" stroke="#009E73" stroke-width="0.8" fill="none"/><circle cx="108.67" cy="5.30" r="0.5" fill="#009E73" fill-opacity="0.8"/>
<path d="M111.97 8.77L108.87 3.75H115.07Z" stroke="#009E73" stroke-width="0.8" fill="none"/><circle cx="111.97" cy="5.30" r="0.5" fill="#009E73" fill-opacity="0.8"/>
<path d="M115.27 8.77L112.17 3.75H118.37Z" stroke="#009E73" stroke-width="0.8" fill="none"/><circle cx="115.27" cy="5.30" r="0.5" fill="#009E73" fill-opacity="0.8"/>
<path d="M118.56 8.77L115.46 3.75H121.66Z" stroke="#009E73" stroke-width="0.8" fill="none"/><circle cx="118.56" cy="5.30" r="0.5" fill="#009E73" fill-opacity="0.8"/>
<path d="M121.86 8.77L118.76 3.75H124.96Z" stroke="#009E73" stroke-width="0.8" fill="none"/><circle cx="121.86" cy="5.30" r="0.5" fill="#009E73" fill-opacity="0.8"/>
<path d="M125.16 8.77L122.06 3.75H128.26Z" stroke="#009E73" stroke-width="0.8" fill="none"/><circle cx="125.16" cy="5.30" r="0.5" fill="#009E73" fill-opacity="0.8"/>
<path d="M128.46 8.77L125.36 3.75H131.56Z" stroke="#009E73" stroke-width="0.8" fill="none"/><circle cx="128.46" cy="5.30" r="0.5" fill="#009E73" fill-opacity="0.8"/>
<path d="M131.76 8.77L128.66 3.75H134.86Z" stroke="#009E73" stroke-width="0.8" fill="none"/><circle cx="131.76" cy="5.30" r="0.5" fill="#009E73" fill-opacity="0.8"/>
<path d="M135.05 8.77L131.95 3.75H138.15Z" stroke="#009E73" stroke-width="0.8" fill="none"/><circle cx="135.05" cy="5.30" r="0.5" fill="#009E73" fill-opacity="0.8"/>
<path d="M138.35 8.77L135.25 3.75H141.45Z" stroke="#009E73" stroke-width="0.8" fill="none"/><circle cx="138.35" cy="5.30" r="0.5" fill="#009E73" fill-opacity="0.8"/>
<path d="M141.65 8.77L138.55 3.75H144.75Z" stroke="#009E73" stroke-width="0.8" fill="none"/><circle cx="141.65" cy="5.30" r="0.5" fill="#009E73" fill-opacity="0.8"/>
<path d="M144.95 8.77L141.85 3.75H148.05Z" stroke="#009E73" stroke-width="0.8" fill="none"/><circle cx="144.95" cy="5.30" r="0.5" fill="#009E73" fill-opacity="0.8"/>
<path d="M148.25 8.77L145.15 3.75H151.35Z" stroke="#009E73" stroke-width="0.8" fill="none"/><circle cx="148.25" cy="5.30" r="0.5" fill="#009E73" fill-opacity="0.8"/>
<path d="M151.54 8.77L148.44 3.75H154.64Z" stroke="#009E73" stroke-width="0.8" fill="none"/><circle cx="151.54" cy="5.30" r="0.5" fill="#009E73" fill-opacity="0.8"/>
<path d="M154.84 8.77L151.74 3.75H157.94Z" stroke="#009E73" stroke-width="0.8" fill="none"/><circle cx="154.84" cy="5.30" r="0.5" fill="#009E73" fill-opacity="0.8"/>
<path d="M158.14 8.77L155.04 3.75H161.24Z" stroke="#009E73" stroke-width="0.8" fill="none"/><circle cx="158.14" cy="5.30" r="0.5" fill="#009E73" fill-opacity="0.8"/>
<path d="M164.74 8.77L161.64 3.75H167.84Z" stroke="#009E73" stroke-width="0.8" fill="none"/><circle cx="164.74" cy="5.30" r="0.5" fill="#009E73" fill-opacity="0.8"/>
<path d="M174.63 8.78L171.53 3.76H177.73Z" stroke="#009E73" stroke-width="0.8" fill="none"/><circle cx="174.63" cy="5.31" r="0.5" fill="#009E73" fill-opacity="0.8"/>
<path d="M181.23 8.79L178.13 3.77H184.33Z" stroke="#009E73" stroke-width="0.8" fill="none"/><circle cx="181.23" cy="5.32" r="0.5" fill="#009E73" fill-opacity="0.8"/>
<path d="M191.12 8.80L188.02 3.78H194.22Z" stroke="#009E73" stroke-width="0.8" fill="none"/><circle cx="191.12" cy="5.33" r="0.5" fill="#009E73" fill-opacity="0.8"/>
<path d="M197.72 8.82L194.62 3.80H200.82Z" stroke="#009E73" stroke-width="0.8" fill="none"/><circle cx="197.72" cy="5.35" r="0.5" fill="#009E73" fill-opacity="0.8"/>
<path d="M207.61 8.84L204.51 3.82H210.71Z" stroke="#009E73" stroke-width="0.8" fill="none"/><circle cx="207.61" cy="5.37" r="0.5" fill="#009E73" fill-opacity="0.8"/>
<path d="M214.21 8.86L211.11 3.84H217.31Z" stroke="#009E73" stroke-width="0.8" fill="none"/><circle cx="214.21" cy="5.39" r="0.5" fill="#009E73" fill-opacity="0.8"/>
<path d="M224.10 8.89L221.00 3.87H227.20Z" stroke="#009E73" stroke-width="0.8" fill="none"/><circle cx="224.10" cy="5.42" r="0.5" fill="#009E73" fill-opacity="0.8"/>
<path d="M240.59 9.01L237.49 3.99H243.69Z" stroke="#009E73" stroke-width="0.8" fill="none"/><circle cx="240.59" cy="5.54" r="0.5" fill="#009E73" fill-opacity="0.8"/>
<path d="M247.19 9.09L244.09 4.07H250.29Z" stroke="#009E73" stroke-width="0.8" fill="none"/><circle cx="247.19" cy="5.62" r="0.5" fill="#009E73" fill-opacity="0.8"/>
<path d="M257.08 9.26L253.98 4.23H260.18Z" stroke="#009E73" stroke-width="0.8" fill="none"/><circle cx="257.08" cy="5.78" r="0.5" fill="#009E73" fill-opacity="0.8"/>
<path d="M273.57 9.98L270.47 4.96H276.67Z" stroke="#009E73" stroke-width="0.8" fill="none"/><circle cx="273.57" cy="6.51" r="0.5" fill="#009E73" fill-opacity="0.8"/>
<path d="M290.06 11.43L286.96 6.41H293.16Z" stroke="#009E73" stroke-width="0.8" fill="none"/><circle cx="290.06" cy="7.96" r="0.5" fill="#009E73" fill-opacity="0.8"/>
<path d="M306.55 14.33L303.45 9.31H309.65Z" stroke="#009E73" stroke-width="0.8" fill="none"/><circle cx="306.55" cy="10.86" r="0.5" fill="#009E73" fill-opacity="0.8"/>
<path d="M313.15 16.02L310.05 11.00H316.25Z" stroke="#009E73" stroke-width="0.8" fill="none"/><circle cx="313.15" cy="12.55" r="0.5" fill="#009E73" fill-opacity="0.8"/>
<path d="M323.04 20.13L319.94 15.11H326.14Z" stroke="#009E73" stroke-width="0.8" fill="none"/><circle cx="323.04" cy="16.66" r="0.5" fill="#009E73" fill-opacity="0.8"/>
<path d="M329.64 22.31L326.54 17.29H332.74Z" stroke="#009E73" stroke-width="0.8" fill="none"/><circle cx="329.64" cy="18.84" r="0.5" fill="#009E73" fill-opacity="0.8"/>
<path d="M339.53 27.87L336.43 22.84H342.63Z" stroke="#009E73" stroke-width="0.8" fill="none"/><circle cx="339.53" cy="24.39" r="0.5" fill="#009E73" fill-opacity="0.8"/>
<path d="M346.13 31.25L343.03 26.23H349.23Z" stroke="#009E73" stroke-width="0.8" fill="none"/><circle cx="346.13" cy="27.78" r="0.5" fill="#009E73" fill-opacity="0.8"/>
<path d="M356.02 37.05L352.92 32.03H359.12Z" stroke="#009E73" stroke-width="0.8" fill="none"/><circle cx="356.02" cy="33.58" r="0.5" fill="#009E73" fill-opacity="0.8"/>
<path d="M362.62 41.64L359.52 36.62H365.72Z" stroke="#009E73" stroke-width="0.8" fill="none"/><circle cx="362.62" cy="38.17" r="0.5" fill="#009E73" fill-opacity="0.8"/>
<path d="M372.51 48.65L369.41 43.63H375.61Z" stroke="#009E73" stroke-width="0.8" fill="none"/><circle cx="372.51" cy="45.18" r="0.5" fill="#009E73" fill-opacity="0.8"/>
<path d="M379.11 52.52L376.01 47.50H382.21Z" stroke="#009E73" stroke-width="0.8" fill="none"/><circle cx="379.11" cy="49.05" r="0.5" fill="#009E73" fill-opacity="0.8"/>
<path d="M389.00 59.05L385.90 54.02H392.10Z" stroke="#009E73" stroke-width="0.8" fill="none"/><circle cx="389.00" cy="55.57" r="0.5" fill="#009E73" fill-opacity="0.8"/>
</g>
<rect x="269" y="55.5" width="119" height="141.8" fill="#fff"/>
<path d="M59.20 247.0v-5M59.20 5.3v5M59.2 247.00h5M389.0 247.00h-5M125.16 247.0v-5M125.16 5.3v5M59.2 198.66h5M389.0 198.66h-5M191.12 247.0v-5M191.12 5.3v5M59.2 150.32h5M389.0 150.32h-5M257.08 247.0v-5M257.08 5.3v5M59.2 101.98h5M389.0 101.98h-5M323.04 247.0v-5M323.04 5.3v5M59.2 53.64h5M389.0 53.64h-5M389.00 247.0v-5M389.00 5.3v5M59.2 5.30h5M389.0 5.30h-5" stroke="#222" stroke-width="0.6" fill="none"/>
<rect x="59.2" y="5.3" width="329.8" height="241.7" fill="none" stroke="#000" stroke-width="1.4"/>
<path d="M142.65 246.7H388.2" stroke="#005800" stroke-width="2.1" fill="none"/>
<text x="60.20" y="264.9" font-size="12.9" text-anchor="middle">0</text>
<text x="51.5" y="251.40" font-size="12.9" text-anchor="end">0</text>
<text x="126.86" y="264.9" font-size="12.9" text-anchor="middle">0.2</text>
<text x="51.5" y="203.06" font-size="12.9" text-anchor="end">0.2</text>
<text x="192.82" y="264.9" font-size="12.9" text-anchor="middle">0.4</text>
<text x="51.5" y="154.72" font-size="12.9" text-anchor="end">0.4</text>
<text x="258.78" y="264.9" font-size="12.9" text-anchor="middle">0.6</text>
<text x="51.5" y="106.38" font-size="12.9" text-anchor="end">0.6</text>
<text x="324.74" y="264.9" font-size="12.9" text-anchor="middle">0.8</text>
<text x="51.5" y="58.04" font-size="12.9" text-anchor="end">0.8</text>
<text x="390.00" y="264.9" font-size="12.9" text-anchor="middle">1</text>
<text x="51.5" y="9.70" font-size="12.9" text-anchor="end">1</text>
<text x="224.8" y="283.3" font-size="16.5" font-style="italic" text-anchor="middle">p</text>
<g transform="translate(13.5,134.5) rotate(-90)"><path d="M3.6 -11.8L0.3 -4.4L3.6 3M33 -11.8L36.3 -4.4L33 3" stroke="#000" stroke-width="0.7" fill="none"/><text x="3.6" y="0" font-size="17">{</text><text x="12.2" y="0" font-size="17" font-style="italic">O</text><text x="24.4" y="0" font-size="17">}</text></g>
<text x="310.6" y="65.7" font-size="15.6" font-style="italic">z</text><text x="327.6" y="65.7" font-size="15.6" font-style="italic">z</text><path d="M317.9 64.7H326.1M322 60.3V69.1M335.9 64.7H343.9" stroke="#000" stroke-width="0.7" fill="none"/>
<text x="289" y="79.30" font-size="12.9">0.1 0.05</text>
<path d="M352.90 75.00H359.10M356.00 71.90V78.10" stroke="#9400D3" stroke-width="0.8" fill="none"/>
<text x="289" y="92.17" font-size="12.9">0.2 0.15</text>
<path d="M352.90 84.77L359.10 90.97M352.90 90.97L359.10 84.77" stroke="#009E73" stroke-width="0.8" fill="none"/>
<text x="289" y="105.04" font-size="12.9">0.3 0.25</text>
<path d="M352.90 100.74H359.10M356.00 97.64V103.84M352.90 97.64L359.10 103.84M352.90 103.84L359.10 97.64" stroke="#56B4E9" stroke-width="0.8" fill="none"/>
<text x="289" y="117.91" font-size="12.9">0.4 0.35</text>
<rect x="353.15" y="110.76" width="5.70" height="5.70" stroke="#E69F00" stroke-width="0.8" fill="none"/><circle cx="356.00" cy="113.61" r="0.5" fill="#E69F00" fill-opacity="0.8"/>
<text x="289" y="130.78" font-size="12.9">0.5 0.45</text>
<rect x="353.10" y="123.58" width="5.80" height="5.80" fill="#F0E442"/>
<text x="289" y="143.65" font-size="12.9">0.6 0.55</text>
<circle cx="356.00" cy="139.35" r="2.8" stroke="#0072B2" stroke-width="1.0" fill="none"/><circle cx="356.00" cy="139.35" r="0.5" fill="#0072B2" fill-opacity="0.8"/>
<text x="289" y="156.52" font-size="12.9">0.7 0.65</text>
<circle cx="356.00" cy="152.22" r="2.95" fill="#E51E10"/>
<text x="289" y="169.39" font-size="12.9">0.8 0.75</text>
<path d="M356.00 161.62L352.90 166.64H359.10Z" stroke="#000000" stroke-width="0.8" fill="none"/><circle cx="356.00" cy="165.09" r="0.5" fill="#000000" fill-opacity="0.8"/>
<text x="289" y="182.26" font-size="12.9">0.9 0.85</text>
<path d="M356.00 174.49L352.90 179.51H359.10Z" fill="#9400D3"/>
<text x="289" y="195.13" font-size="12.9">1.0 0.95</text>
<path d="M356.00 194.30L352.90 189.28H359.10Z" stroke="#009E73" stroke-width="0.8" fill="none"/><circle cx="356.00" cy="190.83" r="0.5" fill="#009E73" fill-opacity="0.8"/>
</svg></body></html>
